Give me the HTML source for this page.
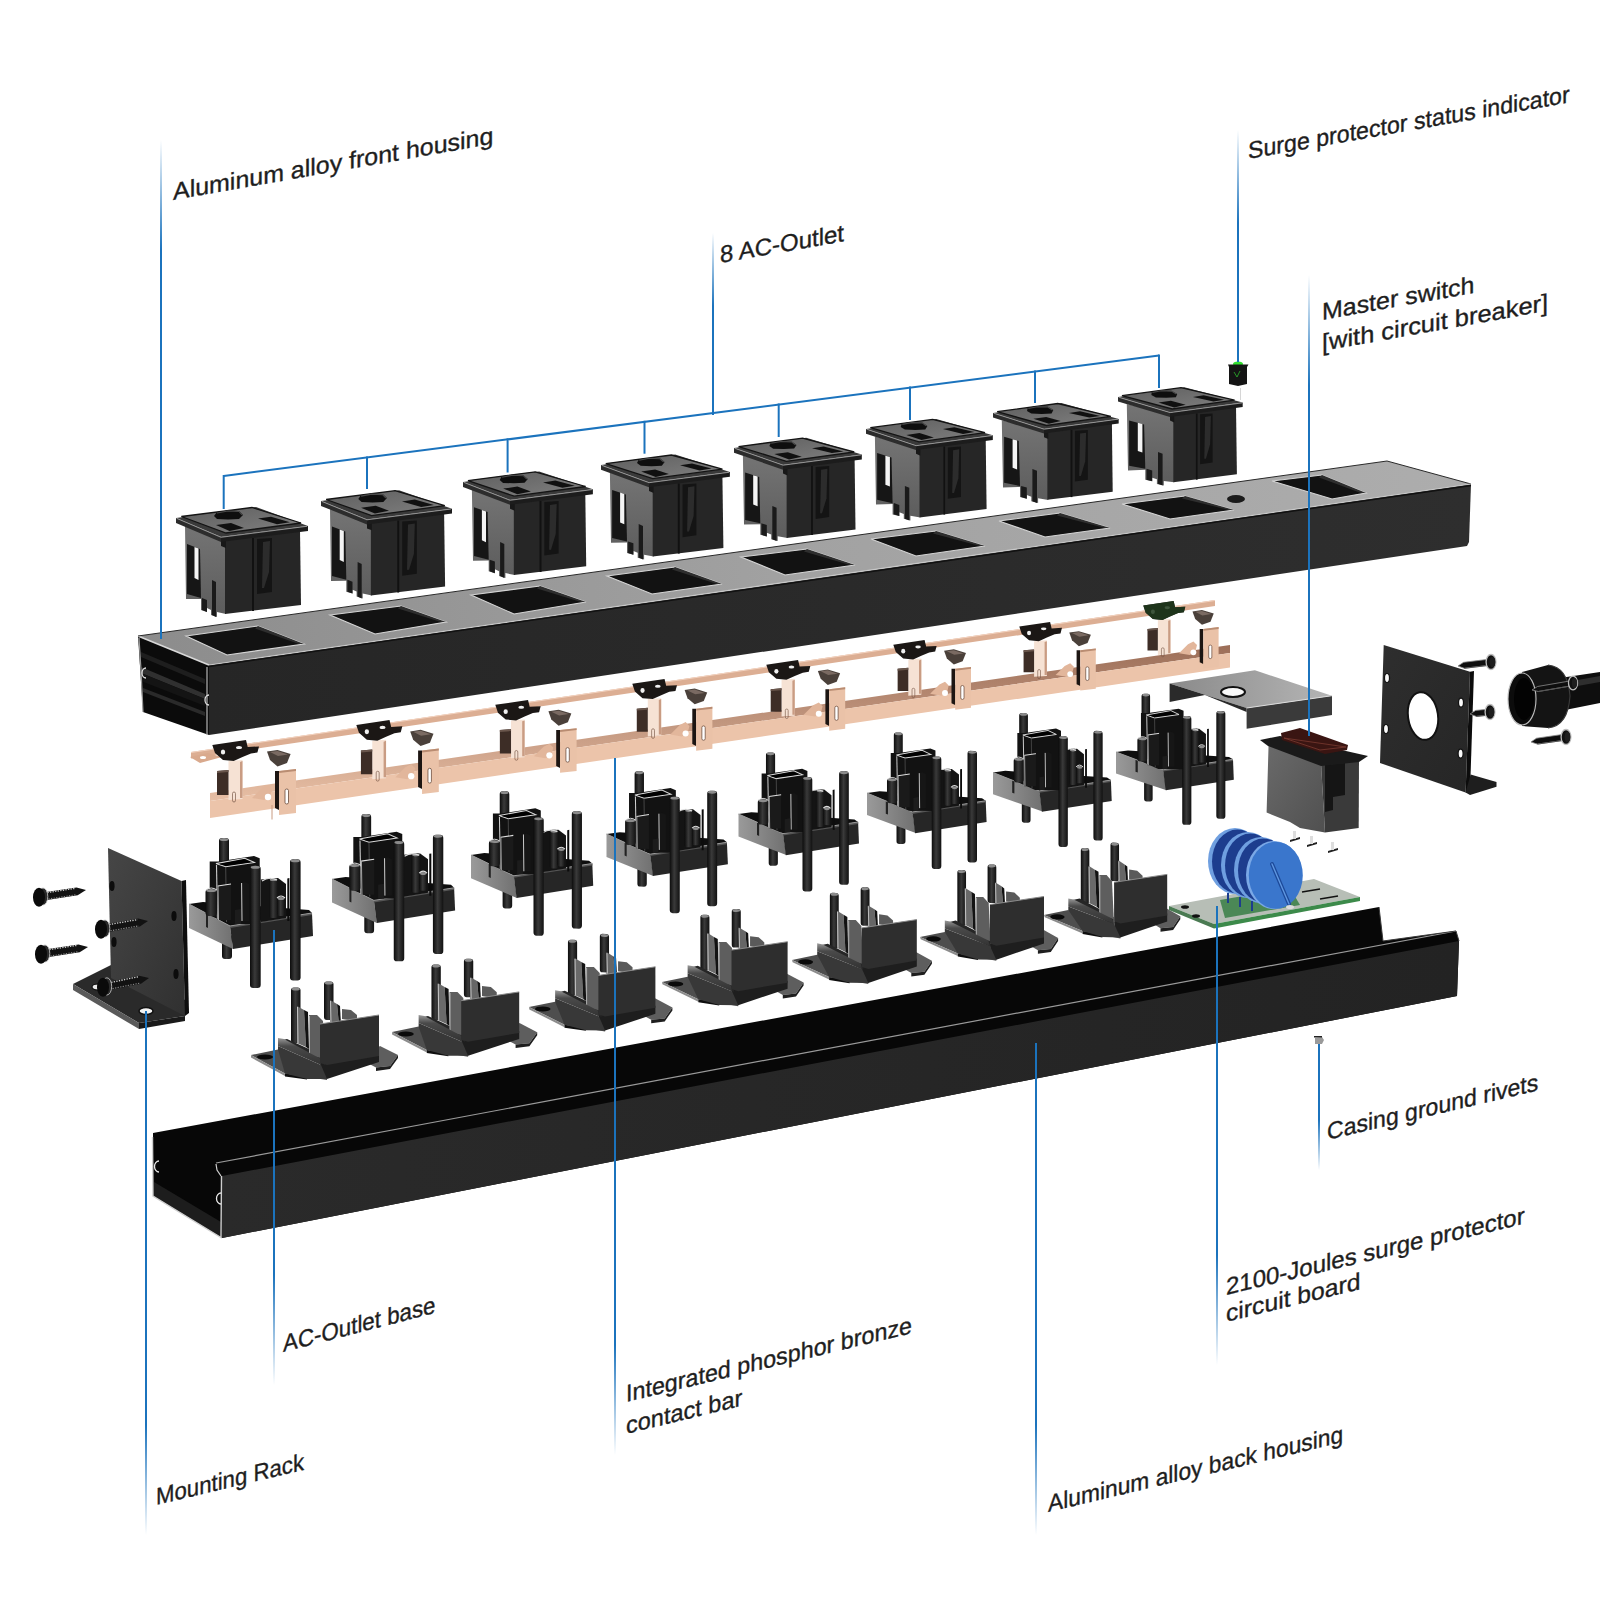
<!DOCTYPE html>
<html><head><meta charset="utf-8"><style>html,body{margin:0;padding:0;background:#fff;width:1600px;height:1600px;overflow:hidden}svg{display:block}</style></head>
<body>
<svg width="1600" height="1600" viewBox="0 0 1600 1600">

<defs>
<linearGradient id="gTopF" x1="0" y1="0" x2="1" y2="0">
  <stop offset="0" stop-color="#8c8c8c"/><stop offset="0.5" stop-color="#a2a2a2"/><stop offset="1" stop-color="#adadad"/>
</linearGradient>
<linearGradient id="gFrontF" x1="0" y1="0" x2="1" y2="0">
  <stop offset="0" stop-color="#262626"/><stop offset="1" stop-color="#2e2e2e"/>
</linearGradient>
<linearGradient id="gBackF" x1="0" y1="0" x2="1" y2="0">
  <stop offset="0" stop-color="#2a2a2a"/><stop offset="1" stop-color="#232323"/>
</linearGradient>
<linearGradient id="fadeUp" x1="0" y1="0" x2="0" y2="1">
  <stop offset="0" stop-color="#1b73bd" stop-opacity="0"/><stop offset="0.35" stop-color="#1b73bd" stop-opacity="1"/><stop offset="1" stop-color="#1b73bd" stop-opacity="1"/>
</linearGradient>
<linearGradient id="fadeDown" x1="0" y1="0" x2="0" y2="1">
  <stop offset="0" stop-color="#1b73bd" stop-opacity="1"/><stop offset="0.65" stop-color="#1b73bd" stop-opacity="1"/><stop offset="1" stop-color="#1b73bd" stop-opacity="0"/>
</linearGradient>
<linearGradient id="gOutTop" x1="0" y1="0" x2="1" y2="1">
  <stop offset="0" stop-color="#5e5e5e"/><stop offset="1" stop-color="#808080"/>
</linearGradient>
<linearGradient id="gOutSide" x1="0" y1="0" x2="0" y2="1">
  <stop offset="0" stop-color="#747474"/><stop offset="1" stop-color="#5c5c5c"/>
</linearGradient>

<linearGradient id="gPin" x1="0" y1="0" x2="1" y2="0"><stop offset="0" stop-color="#0c0c0c"/><stop offset="0.45" stop-color="#3a3a3a"/><stop offset="1" stop-color="#111"/></linearGradient>
<linearGradient id="gTrayL" x1="0" y1="0" x2="1" y2="0"><stop offset="0" stop-color="#9a9a9a"/><stop offset="1" stop-color="#707070"/></linearGradient>
<linearGradient id="gBent" x1="0" y1="0" x2="0" y2="1"><stop offset="0" stop-color="#9c6e58"/><stop offset="1" stop-color="#e8bfa5"/></linearGradient>
<linearGradient id="gRack" x1="0" y1="0" x2="1" y2="1"><stop offset="0" stop-color="#464646"/><stop offset="1" stop-color="#303030"/></linearGradient>
<linearGradient id="gBrk" x1="0" y1="0" x2="1" y2="0"><stop offset="0" stop-color="#8a8a8a"/><stop offset="1" stop-color="#b5b5b5"/></linearGradient>
<linearGradient id="gSwL" x1="0" y1="0" x2="1" y2="1"><stop offset="0" stop-color="#6a6a6a"/><stop offset="1" stop-color="#505050"/></linearGradient>
<linearGradient id="gEnd" x1="0" y1="0" x2="1" y2="1"><stop offset="0" stop-color="#2e2e2e"/><stop offset="1" stop-color="#262626"/></linearGradient>
<linearGradient id="gBevel" x1="0" y1="0" x2="0" y2="1"><stop offset="0" stop-color="#9a9a9a"/><stop offset="0.3" stop-color="#4a4a4a"/><stop offset="1" stop-color="#333"/></linearGradient>
<g id="clip"><polygon points="40.0,58.0 50.0,48.0 56.0,45.0 60.0,49.0 58.0,57.0 52.0,60.0" fill="#e2b69b" />
<circle cx="56" cy="57" r="3.2" fill="#fff"/>
<polygon points="16.5,21.0 30.5,20.0 30.5,59.0 16.5,60.0" fill="#f6e2d4" />
<polygon points="28.0,22.0 30.5,21.0 30.5,58.0 28.0,58.0" fill="#c99c83" />
<polygon points="5.0,31.0 16.5,30.0 16.5,55.0 5.0,55.0" fill="#3d2d26" />
<polygon points="5.0,31.0 16.5,30.0 16.5,32.0 5.0,33.0" fill="#6a564c" />
<rect x="20.5" y="52" width="3" height="10" rx="1.5" fill="none" stroke="#7a5a4a" stroke-width="0.7"/>
<polygon points="63.0,31.0 67.0,31.0 67.0,70.0 63.0,68.0" fill="#1c1512" />
<polygon points="67.0,31.0 84.0,29.0 84.0,73.0 67.0,75.0" fill="#eac2a8" />
<polygon points="67.0,31.0 84.0,29.0 84.0,31.0 67.0,33.0" fill="#b98c72" />
<rect x="73" y="49" width="3.5" height="15" rx="1.7" fill="#fff" stroke="#6a4a3a" stroke-width="0.8"/>
<polygon points="0.3,5.0 34.0,0.0 35.7,7.0 47.0,6.4 45.4,12.5 39.0,13.4 30.5,17.0 21.7,21.0 11.0,20.0 3.0,13.0" fill="#1b1715" />
<ellipse cx="27" cy="7.5" rx="3" ry="1.6" fill="#f0f0f0"/>
<ellipse cx="11" cy="12" rx="2.2" ry="2.5" fill="#f0f0f0"/>
<polygon points="55.0,11.6 65.5,10.0 78.6,14.0 75.0,23.0 65.5,26.5 58.0,20.0" fill="#4a403a" />
<polygon points="58.0,12.0 65.5,11.0 76.0,14.5 66.0,16.0" fill="#7a6a62" /></g>
</defs>

<rect width="1600" height="1600" fill="#fff"/>
<polygon points="153.0,1133.0 1379.0,907.0 1383.0,941.0 1456.0,931.0 1459.0,941.0 1457.0,996.0 222.0,1238.0 153.0,1196.0" fill="#070707" />
<polygon points="222.0,1176.0 1459.0,941.0 1457.0,996.0 222.0,1238.0" fill="url(#gBackF)" />
<polyline points="216,1163 1456,931" stroke="#9a9a9a" stroke-width="1.2" fill="none"/>
<polygon points="154.0,1182.0 221.0,1222.0 221.0,1237.0 154.0,1196.0" fill="#1d1d1d" />
<polyline points="152.5,1137 153,1196 221,1237.5 221.5,1176" stroke="#cfcfcf" stroke-width="1.4" fill="none"/>
<polyline points="216,1164 217,1170 221,1176" stroke="#d0d0d0" stroke-width="1.2" fill="none"/>
<path d="M159 1161 a4.5 5.5 0 1 0 0 11" stroke="#e8e8e8" stroke-width="1.3" fill="none"/>
<path d="M221 1193 a4.5 5.5 0 1 0 0 11" stroke="#e8e8e8" stroke-width="1.3" fill="none"/>
<polyline points="1379,907 1383,941 1456,931 1459,941" stroke="#3a3a3a" stroke-width="1" fill="none"/>
<polygon points="361.0,1059.5 380.0,1046.0 398.0,1055.0 390.0,1066.0 376.0,1067.5" fill="#5e5e5e" />
<polygon points="376.0,1067.5 390.0,1066.0 398.0,1055.0 398.0,1058.0 390.0,1069.0 376.0,1071.0" fill="#1e1e1e" />
<polygon points="251.0,1055.0 278.0,1049.5 327.0,1073.0 327.0,1080.0 285.0,1073.5" fill="#4e4e4e" />
<polygon points="251.0,1055.0 285.0,1073.5 285.0,1076.0 251.0,1057.5" fill="#8c8c8c" />
<polygon points="285.0,1073.5 307.0,1076.5 307.0,1079.5 285.0,1076.5" fill="#0e0e0e" />
<g transform="matrix(1.0000,0.0000,0,1.0000,251.00,1055.00)"><ellipse cx="14" cy="2" rx="8" ry="2.6" fill="#0a0a0a"/></g>
<polygon points="320.0,1063.0 379.0,1054.0 379.0,1062.0 327.0,1079.0 321.0,1077.0" fill="#1e1e1e" />
<g transform="matrix(1.0000,0.0000,0,1.0000,251.00,1055.00)"><rect x="40.0" y="-67.5" width="9.5" height="55.5" rx="2.9" fill="url(#gPin)"/><ellipse cx="44.8" cy="-66.0" rx="4.0" ry="1.5" fill="#8c8c8c"/>
<rect x="73.0" y="-73.5" width="9.5" height="38.5" rx="2.9" fill="url(#gPin)"/><ellipse cx="77.8" cy="-72.0" rx="4.0" ry="1.5" fill="#8c8c8c"/></g>
<g transform="matrix(1.0000,0.0000,0,1.0000,251.00,1055.00)"><polygon points="36.0,-16.0 58.0,-6.0 74.0,2.0 74.0,10.0 27.0,-10.0 27.0,-14.0" fill="#262626" />
<polygon points="46.0,-49.0 53.0,-45.0 55.0,-8.0 46.0,-12.0" fill="#6a6a6a" />
<polyline points="46.5,-48 47,-12" stroke="#c8c8c8" stroke-width="1" fill="none"/>
<polygon points="53.0,-45.0 57.0,-43.0 58.0,-6.0 55.0,-8.0" fill="#121212" />
<polygon points="79.0,-55.0 86.0,-51.0 88.0,-30.0 79.0,-33.0" fill="#666" />
<polyline points="79.5,-54 80,-33" stroke="#c0c0c0" stroke-width="1" fill="none"/>
<polygon points="86.0,-51.0 89.0,-49.0 90.0,-30.0 88.0,-30.0" fill="#111" />
<polygon points="91.0,-46.0 100.0,-45.0 106.0,-40.0 106.0,-34.0 91.0,-36.0" fill="#5a5a5a" />
<polygon points="58.0,-40.0 66.0,-40.0 72.0,-34.0 74.0,4.0 58.0,0.0" fill="#5e5e5e" />
<polyline points="58.5,-39 58.5,0" stroke="#b0b0b0" stroke-width="1" fill="none"/></g>
<polygon points="278.0,1046.0 321.0,1065.0 327.0,1079.0 307.0,1079.0 285.0,1073.5 278.0,1049.5" fill="#383838" />
<polygon points="278.0,1038.0 284.0,1039.0 321.0,1059.0 321.0,1065.0 278.0,1046.0" fill="url(#gBevel)" />
<polygon points="320.0,1024.0 379.0,1015.0 379.0,1056.0 327.0,1065.0 320.0,1063.0" fill="#2e2e2e" />
<polyline points="320.0,1024.0 379.0,1015.0" fill="none" stroke="#8a8a8a" stroke-width="1"/>
<polygon points="500.8,1036.6 519.5,1023.1 537.2,1032.2 529.4,1043.2 515.6,1044.6" fill="#5e5e5e" />
<polygon points="515.6,1044.6 529.4,1043.2 537.2,1032.2 537.2,1035.2 529.4,1046.2 515.6,1048.1" fill="#1e1e1e" />
<polygon points="392.0,1032.0 418.6,1026.6 468.1,1049.7 468.1,1056.7 426.8,1050.1" fill="#4e4e4e" />
<polygon points="392.0,1032.0 426.8,1050.1 426.8,1052.6 392.1,1034.4" fill="#8c8c8c" />
<polygon points="426.8,1050.1 448.4,1053.2 448.4,1056.2 426.8,1053.1" fill="#0e0e0e" />
<g transform="matrix(0.9833,0.0031,0,1.0000,392.13,1031.95)"><ellipse cx="14" cy="2" rx="8" ry="2.6" fill="#0a0a0a"/></g>
<polygon points="461.2,1039.7 519.2,1030.9 519.2,1038.9 468.1,1055.7 462.2,1053.7" fill="#1e1e1e" />
<g transform="matrix(0.9833,0.0031,0,1.0000,392.13,1031.95)"><rect x="40.0" y="-67.5" width="9.5" height="55.5" rx="2.9" fill="url(#gPin)"/><ellipse cx="44.8" cy="-66.0" rx="4.0" ry="1.5" fill="#8c8c8c"/>
<rect x="73.0" y="-73.5" width="9.5" height="38.5" rx="2.9" fill="url(#gPin)"/><ellipse cx="77.8" cy="-72.0" rx="4.0" ry="1.5" fill="#8c8c8c"/></g>
<g transform="matrix(0.9833,0.0031,0,1.0000,392.53,1031.80)"><polygon points="36.0,-16.0 58.0,-6.0 74.0,2.0 74.0,10.0 27.0,-10.0 27.0,-14.0" fill="#262626" />
<polygon points="46.0,-49.0 53.0,-45.0 55.0,-8.0 46.0,-12.0" fill="#6a6a6a" />
<polyline points="46.5,-48 47,-12" stroke="#c8c8c8" stroke-width="1" fill="none"/>
<polygon points="53.0,-45.0 57.0,-43.0 58.0,-6.0 55.0,-8.0" fill="#121212" />
<polygon points="79.0,-55.0 86.0,-51.0 88.0,-30.0 79.0,-33.0" fill="#666" />
<polyline points="79.5,-54 80,-33" stroke="#c0c0c0" stroke-width="1" fill="none"/>
<polygon points="86.0,-51.0 89.0,-49.0 90.0,-30.0 88.0,-30.0" fill="#111" />
<polygon points="91.0,-46.0 100.0,-45.0 106.0,-40.0 106.0,-34.0 91.0,-36.0" fill="#5a5a5a" />
<polygon points="58.0,-40.0 66.0,-40.0 72.0,-34.0 74.0,4.0 58.0,0.0" fill="#5e5e5e" />
<polyline points="58.5,-39 58.5,0" stroke="#b0b0b0" stroke-width="1" fill="none"/></g>
<polygon points="418.6,1023.1 462.0,1041.8 468.1,1055.7 448.4,1055.7 426.8,1050.1 418.6,1026.6" fill="#383838" />
<polygon points="418.6,1015.1 424.4,1016.1 461.7,1035.9 462.0,1041.8 418.6,1023.1" fill="url(#gBevel)" />
<polygon points="461.2,1000.7 519.2,991.9 519.2,1032.9 468.1,1041.7 461.2,1039.7" fill="#2e2e2e" />
<polyline points="461.2,1000.7 519.2,991.9" fill="none" stroke="#8a8a8a" stroke-width="1"/>
<polygon points="636.7,1011.7 655.0,998.3 672.4,1007.4 664.7,1018.4 651.2,1019.8" fill="#5e5e5e" />
<polygon points="651.2,1019.8 664.7,1018.4 672.4,1007.4 672.4,1010.4 664.7,1021.4 651.2,1023.3" fill="#1e1e1e" />
<polygon points="529.0,1007.0 555.1,1001.7 605.1,1024.5 605.1,1031.5 564.5,1024.7" fill="#4e4e4e" />
<polygon points="529.0,1007.0 564.5,1024.7 564.5,1027.2 529.3,1009.4" fill="#8c8c8c" />
<polygon points="564.5,1024.7 585.8,1027.8 585.8,1030.8 564.5,1027.7" fill="#0e0e0e" />
<g transform="matrix(0.9667,0.0062,0,1.0000,529.27,1006.90)"><ellipse cx="14" cy="2" rx="8" ry="2.6" fill="#0a0a0a"/></g>
<polygon points="598.4,1014.4 655.4,1005.8 655.4,1013.8 605.1,1030.5 599.3,1028.4" fill="#1e1e1e" />
<g transform="matrix(0.9667,0.0062,0,1.0000,529.27,1006.90)"><rect x="40.0" y="-67.5" width="9.5" height="55.5" rx="2.9" fill="url(#gPin)"/><ellipse cx="44.8" cy="-66.0" rx="4.0" ry="1.5" fill="#8c8c8c"/>
<rect x="73.0" y="-73.5" width="9.5" height="38.5" rx="2.9" fill="url(#gPin)"/><ellipse cx="77.8" cy="-72.0" rx="4.0" ry="1.5" fill="#8c8c8c"/></g>
<g transform="matrix(0.9667,0.0062,0,1.0000,530.07,1006.60)"><polygon points="36.0,-16.0 58.0,-6.0 74.0,2.0 74.0,10.0 27.0,-10.0 27.0,-14.0" fill="#262626" />
<polygon points="46.0,-49.0 53.0,-45.0 55.0,-8.0 46.0,-12.0" fill="#6a6a6a" />
<polyline points="46.5,-48 47,-12" stroke="#c8c8c8" stroke-width="1" fill="none"/>
<polygon points="53.0,-45.0 57.0,-43.0 58.0,-6.0 55.0,-8.0" fill="#121212" />
<polygon points="79.0,-55.0 86.0,-51.0 88.0,-30.0 79.0,-33.0" fill="#666" />
<polyline points="79.5,-54 80,-33" stroke="#c0c0c0" stroke-width="1" fill="none"/>
<polygon points="86.0,-51.0 89.0,-49.0 90.0,-30.0 88.0,-30.0" fill="#111" />
<polygon points="91.0,-46.0 100.0,-45.0 106.0,-40.0 106.0,-34.0 91.0,-36.0" fill="#5a5a5a" />
<polygon points="58.0,-40.0 66.0,-40.0 72.0,-34.0 74.0,4.0 58.0,0.0" fill="#5e5e5e" />
<polyline points="58.5,-39 58.5,0" stroke="#b0b0b0" stroke-width="1" fill="none"/></g>
<polygon points="555.1,998.2 599.0,1016.6 605.1,1030.5 585.8,1030.3 564.5,1024.7 555.1,1001.7" fill="#383838" />
<polygon points="555.1,990.2 560.9,991.2 598.3,1010.8 599.0,1016.6 555.1,998.2" fill="url(#gBevel)" />
<polygon points="598.4,975.4 655.4,966.8 655.4,1007.8 605.1,1016.5 598.4,1014.4" fill="#2e2e2e" />
<polyline points="598.4,975.4 655.4,966.8" fill="none" stroke="#8a8a8a" stroke-width="1"/>
<polygon points="768.5,986.8 786.5,973.4 803.6,982.6 796.0,993.5 782.8,994.9" fill="#5e5e5e" />
<polygon points="782.8,994.9 796.0,993.5 803.6,982.6 803.6,985.6 796.0,996.5 782.8,998.4" fill="#1e1e1e" />
<polygon points="662.0,982.0 687.6,976.8 738.2,999.2 738.2,1006.2 698.3,999.3" fill="#4e4e4e" />
<polygon points="662.0,982.0 698.3,999.3 698.3,1001.8 662.4,984.3" fill="#8c8c8c" />
<polygon points="698.3,999.3 719.2,1002.5 719.2,1005.5 698.3,1002.3" fill="#0e0e0e" />
<g transform="matrix(0.9500,0.0093,0,1.0000,662.40,981.85)"><ellipse cx="14" cy="2" rx="8" ry="2.6" fill="#0a0a0a"/></g>
<polygon points="731.5,989.1 787.6,980.7 787.6,988.7 738.2,1005.2 732.5,1003.2" fill="#1e1e1e" />
<g transform="matrix(0.9500,0.0093,0,1.0000,662.40,981.85)"><rect x="40.0" y="-67.5" width="9.5" height="55.5" rx="2.9" fill="url(#gPin)"/><ellipse cx="44.8" cy="-66.0" rx="4.0" ry="1.5" fill="#8c8c8c"/>
<rect x="73.0" y="-73.5" width="9.5" height="38.5" rx="2.9" fill="url(#gPin)"/><ellipse cx="77.8" cy="-72.0" rx="4.0" ry="1.5" fill="#8c8c8c"/></g>
<g transform="matrix(0.9500,0.0093,0,1.0000,663.60,981.40)"><polygon points="36.0,-16.0 58.0,-6.0 74.0,2.0 74.0,10.0 27.0,-10.0 27.0,-14.0" fill="#262626" />
<polygon points="46.0,-49.0 53.0,-45.0 55.0,-8.0 46.0,-12.0" fill="#6a6a6a" />
<polyline points="46.5,-48 47,-12" stroke="#c8c8c8" stroke-width="1" fill="none"/>
<polygon points="53.0,-45.0 57.0,-43.0 58.0,-6.0 55.0,-8.0" fill="#121212" />
<polygon points="79.0,-55.0 86.0,-51.0 88.0,-30.0 79.0,-33.0" fill="#666" />
<polyline points="79.5,-54 80,-33" stroke="#c0c0c0" stroke-width="1" fill="none"/>
<polygon points="86.0,-51.0 89.0,-49.0 90.0,-30.0 88.0,-30.0" fill="#111" />
<polygon points="91.0,-46.0 100.0,-45.0 106.0,-40.0 106.0,-34.0 91.0,-36.0" fill="#5a5a5a" />
<polygon points="58.0,-40.0 66.0,-40.0 72.0,-34.0 74.0,4.0 58.0,0.0" fill="#5e5e5e" />
<polyline points="58.5,-39 58.5,0" stroke="#b0b0b0" stroke-width="1" fill="none"/></g>
<polygon points="687.6,973.3 732.0,991.3 738.2,1005.2 719.2,1005.0 698.3,999.3 687.6,976.8" fill="#383838" />
<polygon points="687.6,965.3 693.4,966.3 731.0,985.7 732.0,991.3 687.6,973.3" fill="url(#gBevel)" />
<polygon points="731.5,950.1 787.6,941.7 787.6,982.7 738.2,991.2 731.5,989.1" fill="#2e2e2e" />
<polyline points="731.5,950.1 787.6,941.7" fill="none" stroke="#8a8a8a" stroke-width="1"/>
<polygon points="897.3,964.9 915.1,951.6 931.9,960.8 924.4,971.7 911.3,973.0" fill="#5e5e5e" />
<polygon points="911.3,973.0 924.4,971.7 931.9,960.8 931.9,963.8 924.4,974.7 911.3,976.5" fill="#1e1e1e" />
<polygon points="792.0,960.0 817.2,954.8 868.3,976.9 868.3,983.9 829.1,976.9" fill="#4e4e4e" />
<polygon points="792.0,960.0 829.1,976.9 829.1,979.4 792.6,962.3" fill="#8c8c8c" />
<polygon points="829.1,976.9 849.6,980.2 849.6,983.2 829.1,979.9" fill="#0e0e0e" />
<g transform="matrix(0.9333,0.0124,0,1.0000,792.53,959.80)"><ellipse cx="14" cy="2" rx="8" ry="2.6" fill="#0a0a0a"/></g>
<polygon points="861.7,966.9 916.8,958.6 916.8,966.6 868.3,982.9 862.7,980.9" fill="#1e1e1e" />
<g transform="matrix(0.9333,0.0124,0,1.0000,792.53,959.80)"><rect x="40.0" y="-67.5" width="9.5" height="55.5" rx="2.9" fill="url(#gPin)"/><ellipse cx="44.8" cy="-66.0" rx="4.0" ry="1.5" fill="#8c8c8c"/>
<rect x="73.0" y="-73.5" width="9.5" height="38.5" rx="2.9" fill="url(#gPin)"/><ellipse cx="77.8" cy="-72.0" rx="4.0" ry="1.5" fill="#8c8c8c"/></g>
<g transform="matrix(0.9333,0.0124,0,1.0000,794.13,959.20)"><polygon points="36.0,-16.0 58.0,-6.0 74.0,2.0 74.0,10.0 27.0,-10.0 27.0,-14.0" fill="#262626" />
<polygon points="46.0,-49.0 53.0,-45.0 55.0,-8.0 46.0,-12.0" fill="#6a6a6a" />
<polyline points="46.5,-48 47,-12" stroke="#c8c8c8" stroke-width="1" fill="none"/>
<polygon points="53.0,-45.0 57.0,-43.0 58.0,-6.0 55.0,-8.0" fill="#121212" />
<polygon points="79.0,-55.0 86.0,-51.0 88.0,-30.0 79.0,-33.0" fill="#666" />
<polyline points="79.5,-54 80,-33" stroke="#c0c0c0" stroke-width="1" fill="none"/>
<polygon points="86.0,-51.0 89.0,-49.0 90.0,-30.0 88.0,-30.0" fill="#111" />
<polygon points="91.0,-46.0 100.0,-45.0 106.0,-40.0 106.0,-34.0 91.0,-36.0" fill="#5a5a5a" />
<polygon points="58.0,-40.0 66.0,-40.0 72.0,-34.0 74.0,4.0 58.0,0.0" fill="#5e5e5e" />
<polyline points="58.5,-39 58.5,0" stroke="#b0b0b0" stroke-width="1" fill="none"/></g>
<polygon points="817.2,951.3 862.0,969.1 868.3,982.9 849.6,982.7 829.1,976.9 817.2,954.8" fill="#383838" />
<polygon points="817.2,943.3 822.8,944.4 860.6,963.6 862.0,969.1 817.2,951.3" fill="url(#gBevel)" />
<polygon points="861.7,927.9 916.8,919.6 916.8,960.6 868.3,968.9 861.7,966.9" fill="#2e2e2e" />
<polyline points="861.7,927.9 916.8,919.6" fill="none" stroke="#8a8a8a" stroke-width="1"/>
<polygon points="1024.2,942.0 1041.6,928.7 1058.1,938.0 1050.8,948.9 1037.9,950.2" fill="#5e5e5e" />
<polygon points="1037.9,950.2 1050.8,948.9 1058.1,938.0 1058.1,941.0 1050.8,951.9 1037.9,953.7" fill="#1e1e1e" />
<polygon points="920.0,937.0 944.8,931.9 996.3,953.7 996.3,960.7 957.8,953.5" fill="#4e4e4e" />
<polygon points="920.0,937.0 957.8,953.5 957.8,956.0 920.7,939.2" fill="#8c8c8c" />
<polygon points="957.8,953.5 978.0,956.9 978.0,959.9 957.8,956.5" fill="#0e0e0e" />
<g transform="matrix(0.9167,0.0155,0,1.0000,920.67,936.75)"><ellipse cx="14" cy="2" rx="8" ry="2.6" fill="#0a0a0a"/></g>
<polygon points="989.9,943.6 1044.0,935.5 1044.0,943.5 996.3,959.7 990.8,957.6" fill="#1e1e1e" />
<g transform="matrix(0.9167,0.0155,0,1.0000,920.67,936.75)"><rect x="40.0" y="-67.5" width="9.5" height="55.5" rx="2.9" fill="url(#gPin)"/><ellipse cx="44.8" cy="-66.0" rx="4.0" ry="1.5" fill="#8c8c8c"/>
<rect x="73.0" y="-73.5" width="9.5" height="38.5" rx="2.9" fill="url(#gPin)"/><ellipse cx="77.8" cy="-72.0" rx="4.0" ry="1.5" fill="#8c8c8c"/></g>
<g transform="matrix(0.9167,0.0155,0,1.0000,922.67,936.00)"><polygon points="36.0,-16.0 58.0,-6.0 74.0,2.0 74.0,10.0 27.0,-10.0 27.0,-14.0" fill="#262626" />
<polygon points="46.0,-49.0 53.0,-45.0 55.0,-8.0 46.0,-12.0" fill="#6a6a6a" />
<polyline points="46.5,-48 47,-12" stroke="#c8c8c8" stroke-width="1" fill="none"/>
<polygon points="53.0,-45.0 57.0,-43.0 58.0,-6.0 55.0,-8.0" fill="#121212" />
<polygon points="79.0,-55.0 86.0,-51.0 88.0,-30.0 79.0,-33.0" fill="#666" />
<polyline points="79.5,-54 80,-33" stroke="#c0c0c0" stroke-width="1" fill="none"/>
<polygon points="86.0,-51.0 89.0,-49.0 90.0,-30.0 88.0,-30.0" fill="#111" />
<polygon points="91.0,-46.0 100.0,-45.0 106.0,-40.0 106.0,-34.0 91.0,-36.0" fill="#5a5a5a" />
<polygon points="58.0,-40.0 66.0,-40.0 72.0,-34.0 74.0,4.0 58.0,0.0" fill="#5e5e5e" />
<polyline points="58.5,-39 58.5,0" stroke="#b0b0b0" stroke-width="1" fill="none"/></g>
<polygon points="944.8,928.4 990.0,945.9 996.3,959.7 978.0,959.4 957.8,953.5 944.8,931.9" fill="#383838" />
<polygon points="944.8,920.4 950.2,921.5 988.3,940.5 990.0,945.9 944.8,928.4" fill="url(#gBevel)" />
<polygon points="989.9,904.6 1044.0,896.5 1044.0,937.5 996.3,945.7 989.9,943.6" fill="#2e2e2e" />
<polyline points="989.9,904.6 1044.0,896.5" fill="none" stroke="#8a8a8a" stroke-width="1"/>
<polygon points="1147.0,920.0 1164.1,906.9 1180.3,916.2 1173.1,927.1 1160.5,928.3" fill="#5e5e5e" />
<polygon points="1160.5,928.3 1173.1,927.1 1180.3,916.2 1180.3,919.2 1173.1,930.1 1160.5,931.8" fill="#1e1e1e" />
<polygon points="1044.0,915.0 1068.3,910.0 1120.4,931.4 1120.4,938.4 1082.6,931.1" fill="#4e4e4e" />
<polygon points="1044.0,915.0 1082.6,931.1 1082.6,933.6 1044.8,917.2" fill="#8c8c8c" />
<polygon points="1082.6,931.1 1102.4,934.5 1102.4,937.5 1082.6,934.1" fill="#0e0e0e" />
<g transform="matrix(0.9000,0.0186,0,1.0000,1044.80,914.70)"><ellipse cx="14" cy="2" rx="8" ry="2.6" fill="#0a0a0a"/></g>
<polygon points="1114.1,921.3 1167.2,913.4 1167.2,921.4 1120.4,937.4 1115.0,935.3" fill="#1e1e1e" />
<g transform="matrix(0.9000,0.0186,0,1.0000,1044.80,914.70)"><rect x="40.0" y="-67.5" width="9.5" height="55.5" rx="2.9" fill="url(#gPin)"/><ellipse cx="44.8" cy="-66.0" rx="4.0" ry="1.5" fill="#8c8c8c"/>
<rect x="73.0" y="-73.5" width="9.5" height="38.5" rx="2.9" fill="url(#gPin)"/><ellipse cx="77.8" cy="-72.0" rx="4.0" ry="1.5" fill="#8c8c8c"/></g>
<g transform="matrix(0.9000,0.0186,0,1.0000,1047.20,913.80)"><polygon points="36.0,-16.0 58.0,-6.0 74.0,2.0 74.0,10.0 27.0,-10.0 27.0,-14.0" fill="#262626" />
<polygon points="46.0,-49.0 53.0,-45.0 55.0,-8.0 46.0,-12.0" fill="#6a6a6a" />
<polyline points="46.5,-48 47,-12" stroke="#c8c8c8" stroke-width="1" fill="none"/>
<polygon points="53.0,-45.0 57.0,-43.0 58.0,-6.0 55.0,-8.0" fill="#121212" />
<polygon points="79.0,-55.0 86.0,-51.0 88.0,-30.0 79.0,-33.0" fill="#666" />
<polyline points="79.5,-54 80,-33" stroke="#c0c0c0" stroke-width="1" fill="none"/>
<polygon points="86.0,-51.0 89.0,-49.0 90.0,-30.0 88.0,-30.0" fill="#111" />
<polygon points="91.0,-46.0 100.0,-45.0 106.0,-40.0 106.0,-34.0 91.0,-36.0" fill="#5a5a5a" />
<polygon points="58.0,-40.0 66.0,-40.0 72.0,-34.0 74.0,4.0 58.0,0.0" fill="#5e5e5e" />
<polyline points="58.5,-39 58.5,0" stroke="#b0b0b0" stroke-width="1" fill="none"/></g>
<polygon points="1068.3,906.5 1114.0,923.7 1120.4,937.4 1102.4,937.0 1082.6,931.1 1068.3,910.0" fill="#383838" />
<polygon points="1068.3,898.5 1073.7,899.6 1112.0,918.4 1114.0,923.7 1068.3,906.5" fill="url(#gBevel)" />
<polygon points="1114.1,882.3 1167.2,874.4 1167.2,915.4 1120.4,923.4 1114.1,921.3" fill="#2e2e2e" />
<polyline points="1114.1,882.3 1167.2,874.4" fill="none" stroke="#8a8a8a" stroke-width="1"/>
<g transform="matrix(1.0000,0.0000,0,1.0000,189.00,904.00)"><rect x="33.0" y="30.0" width="10.0" height="25.0" rx="3.0" fill="url(#gPin)"/></g>
<polygon points="189.0,904.0 230.0,926.0 233.0,949.0 189.0,928.0" fill="url(#gTrayL)" />
<polygon points="206.0,913.0 208.0,914.0 208.0,928.0 206.0,927.0" fill="#222" />
<polygon points="230.0,926.0 312.0,913.0 313.0,936.0 233.0,949.0" fill="#262626" />
<polygon points="230.0,926.0 312.0,913.0 312.0,915.0 230.0,928.0" fill="#555" />
<polygon points="189.0,904.0 203.0,902.0 309.0,910.0 312.0,913.0 230.0,926.0" fill="#0e0e0e" />
<polyline points="189.0,904.0 230.0,926.0 312.0,913.0" fill="none" stroke="#9a9a9a" stroke-width="1"/>
<g transform="matrix(1.0000,0.0000,0,1.0000,189.00,904.00)"><rect x="30.0" y="-66.0" width="10.0" height="36.0" rx="3.0" fill="url(#gPin)"/><ellipse cx="35.0" cy="-64.5" rx="4.2" ry="1.5" fill="#8c8c8c"/></g>
<g transform="matrix(1.0000,0.0000,0,1.0000,189.00,904.00)"><polygon points="20.7,-42.6 29.0,-42.6 65.0,-48.0 70.7,-45.7 70.7,20.0 41.0,20.0 20.7,11.6" fill="#121212" />
<polygon points="27.0,-40.4 55.8,-45.8 65.4,-41.5 36.7,-37.2" fill="#050505" stroke="#d8d8d8" stroke-width="1.1"/>
<polygon points="30.0,-40.0 55.0,-44.5 61.0,-41.8 36.5,-38.5" fill="#000" />
<polyline points="27.5,-39 28.5,15" stroke="#cfcfcf" stroke-width="1.1" fill="none"/>
<polyline points="36.7,-37 37.5,18" stroke="#555" stroke-width="0.8" fill="none"/>
<rect x="16.5" y="-15.0" width="11.5" height="27.0" rx="3.4" fill="url(#gPin)"/><ellipse cx="22.2" cy="-13.5" rx="5.0" ry="1.5" fill="#8c8c8c"/>
<path d="M17 -14 Q22 -18 28 -14" stroke="#ddd" stroke-width="1" fill="none"/>
<polygon points="28.7,-18.0 42.0,-20.0 42.0,16.0 28.7,16.0" fill="#1a1a1a" />
<polyline points="28.7,-18 42,-20" stroke="#e0e0e0" stroke-width="1.1" fill="none"/>
<polyline points="29,-18 29.5,16" stroke="#bbb" stroke-width="0.9" fill="none"/>
<polygon points="52.6,-21.0 56.0,-22.0 60.0,-20.0 60.0,17.0 52.6,17.0" fill="#161616" />
<polyline points="52.6,-21 53,17" stroke="#d0d0d0" stroke-width="1" fill="none"/>
<polygon points="71.7,-24.5 89.0,-26.0 97.0,-20.0 97.0,14.0 71.7,18.0" fill="#141414" />
<rect x="80.0" y="-26.0" width="9.0" height="40.0" rx="2.7" fill="url(#gPin)"/><ellipse cx="84.5" cy="-24.5" rx="3.7" ry="1.5" fill="#8c8c8c"/>
<path d="M73 -23 Q80 -28 88 -24" stroke="#e0e0e0" stroke-width="1.1" fill="none"/>
<rect x="88.0" y="-7.0" width="8.0" height="19.0" rx="2.4" fill="url(#gPin)"/><ellipse cx="92.0" cy="-5.5" rx="3.2" ry="1.5" fill="#8c8c8c"/>
<path d="M88 -6 Q92 -10 96 -6" stroke="#e0e0e0" stroke-width="1.1" fill="none"/>
<polygon points="98.3,-25.6 100.4,-26.0 100.4,17.0 98.3,17.0" fill="#0c0c0c" />
<polygon points="46.0,6.0 52.0,5.0 52.0,20.0 46.0,20.0" fill="#1c1c1c" /></g>
<g transform="matrix(1.0000,0.0000,0,1.0000,189.00,904.00)"><rect x="61.0" y="-38.3" width="10.7" height="122.2" rx="3.2" fill="url(#gPin)"/><ellipse cx="66.3" cy="-36.8" rx="4.6" ry="1.5" fill="#8c8c8c"/><rect x="101.0" y="-44.7" width="10.6" height="121.1" rx="3.2" fill="url(#gPin)"/><ellipse cx="106.3" cy="-43.2" rx="4.5" ry="1.5" fill="#8c8c8c"/></g>
<g transform="matrix(0.9789,0.0019,0,0.9843,332.00,879.00)"><rect x="33.0" y="30.0" width="10.0" height="25.0" rx="3.0" fill="url(#gPin)"/></g>
<polygon points="332.0,879.0 373.9,900.4 376.9,923.0 332.0,902.6" fill="url(#gTrayL)" />
<polygon points="349.4,887.8 351.4,888.7 351.4,902.5 349.4,901.5" fill="#222" />
<polygon points="373.9,900.4 454.1,887.8 455.1,910.4 376.8,923.0" fill="#262626" />
<polygon points="373.9,900.4 454.1,887.8 454.1,889.7 373.9,902.4" fill="#555" />
<polygon points="332.0,879.0 345.7,877.1 451.0,884.8 454.1,887.8 373.9,900.4" fill="#0e0e0e" />
<polyline points="332.0,879.0 373.9,900.4 454.1,887.8" fill="none" stroke="#9a9a9a" stroke-width="1"/>
<g transform="matrix(0.9789,0.0019,0,0.9843,332.00,879.00)"><rect x="30.0" y="-66.0" width="10.0" height="36.0" rx="3.0" fill="url(#gPin)"/><ellipse cx="35.0" cy="-64.5" rx="4.2" ry="1.5" fill="#8c8c8c"/></g>
<g transform="matrix(0.9789,0.0019,0,0.9843,333.05,878.80)"><polygon points="20.7,-42.6 29.0,-42.6 65.0,-48.0 70.7,-45.7 70.7,20.0 41.0,20.0 20.7,11.6" fill="#121212" />
<polygon points="27.0,-40.4 55.8,-45.8 65.4,-41.5 36.7,-37.2" fill="#050505" stroke="#d8d8d8" stroke-width="1.1"/>
<polygon points="30.0,-40.0 55.0,-44.5 61.0,-41.8 36.5,-38.5" fill="#000" />
<polyline points="27.5,-39 28.5,15" stroke="#cfcfcf" stroke-width="1.1" fill="none"/>
<polyline points="36.7,-37 37.5,18" stroke="#555" stroke-width="0.8" fill="none"/>
<rect x="16.5" y="-15.0" width="11.5" height="27.0" rx="3.4" fill="url(#gPin)"/><ellipse cx="22.2" cy="-13.5" rx="5.0" ry="1.5" fill="#8c8c8c"/>
<path d="M17 -14 Q22 -18 28 -14" stroke="#ddd" stroke-width="1" fill="none"/>
<polygon points="28.7,-18.0 42.0,-20.0 42.0,16.0 28.7,16.0" fill="#1a1a1a" />
<polyline points="28.7,-18 42,-20" stroke="#e0e0e0" stroke-width="1.1" fill="none"/>
<polyline points="29,-18 29.5,16" stroke="#bbb" stroke-width="0.9" fill="none"/>
<polygon points="52.6,-21.0 56.0,-22.0 60.0,-20.0 60.0,17.0 52.6,17.0" fill="#161616" />
<polyline points="52.6,-21 53,17" stroke="#d0d0d0" stroke-width="1" fill="none"/>
<polygon points="71.7,-24.5 89.0,-26.0 97.0,-20.0 97.0,14.0 71.7,18.0" fill="#141414" />
<rect x="80.0" y="-26.0" width="9.0" height="40.0" rx="2.7" fill="url(#gPin)"/><ellipse cx="84.5" cy="-24.5" rx="3.7" ry="1.5" fill="#8c8c8c"/>
<path d="M73 -23 Q80 -28 88 -24" stroke="#e0e0e0" stroke-width="1.1" fill="none"/>
<rect x="88.0" y="-7.0" width="8.0" height="19.0" rx="2.4" fill="url(#gPin)"/><ellipse cx="92.0" cy="-5.5" rx="3.2" ry="1.5" fill="#8c8c8c"/>
<path d="M88 -6 Q92 -10 96 -6" stroke="#e0e0e0" stroke-width="1.1" fill="none"/>
<polygon points="98.3,-25.6 100.4,-26.0 100.4,17.0 98.3,17.0" fill="#0c0c0c" />
<polygon points="46.0,6.0 52.0,5.0 52.0,20.0 46.0,20.0" fill="#1c1c1c" /></g>
<g transform="matrix(0.9789,0.0019,0,0.9843,334.04,878.62)"><rect x="61.0" y="-38.3" width="10.7" height="122.2" rx="3.2" fill="url(#gPin)"/><ellipse cx="66.3" cy="-36.8" rx="4.6" ry="1.5" fill="#8c8c8c"/><rect x="101.0" y="-44.7" width="10.6" height="121.1" rx="3.2" fill="url(#gPin)"/><ellipse cx="106.3" cy="-43.2" rx="4.5" ry="1.5" fill="#8c8c8c"/></g>
<g transform="matrix(0.9577,0.0037,0,0.9686,471.00,855.00)"><rect x="33.0" y="30.0" width="10.0" height="25.0" rx="3.0" fill="url(#gPin)"/></g>
<polygon points="471.0,855.0 513.8,875.8 516.9,898.0 471.0,878.2" fill="url(#gTrayL)" />
<polygon points="488.7,863.5 490.8,864.5 490.8,878.0 488.7,877.1" fill="#222" />
<polygon points="513.8,875.8 592.3,863.5 593.2,885.8 516.6,898.1" fill="#262626" />
<polygon points="513.8,875.8 592.3,863.5 592.3,865.5 513.8,877.7" fill="#555" />
<polygon points="471.0,855.0 484.4,853.1 589.0,860.7 592.3,863.5 513.8,875.8" fill="#0e0e0e" />
<polyline points="471.0,855.0 513.8,875.8 592.3,863.5" fill="none" stroke="#9a9a9a" stroke-width="1"/>
<g transform="matrix(0.9577,0.0037,0,0.9686,471.00,855.00)"><rect x="30.0" y="-66.0" width="10.0" height="36.0" rx="3.0" fill="url(#gPin)"/><ellipse cx="35.0" cy="-64.5" rx="4.2" ry="1.5" fill="#8c8c8c"/></g>
<g transform="matrix(0.9577,0.0037,0,0.9686,473.09,854.61)"><polygon points="20.7,-42.6 29.0,-42.6 65.0,-48.0 70.7,-45.7 70.7,20.0 41.0,20.0 20.7,11.6" fill="#121212" />
<polygon points="27.0,-40.4 55.8,-45.8 65.4,-41.5 36.7,-37.2" fill="#050505" stroke="#d8d8d8" stroke-width="1.1"/>
<polygon points="30.0,-40.0 55.0,-44.5 61.0,-41.8 36.5,-38.5" fill="#000" />
<polyline points="27.5,-39 28.5,15" stroke="#cfcfcf" stroke-width="1.1" fill="none"/>
<polyline points="36.7,-37 37.5,18" stroke="#555" stroke-width="0.8" fill="none"/>
<rect x="16.5" y="-15.0" width="11.5" height="27.0" rx="3.4" fill="url(#gPin)"/><ellipse cx="22.2" cy="-13.5" rx="5.0" ry="1.5" fill="#8c8c8c"/>
<path d="M17 -14 Q22 -18 28 -14" stroke="#ddd" stroke-width="1" fill="none"/>
<polygon points="28.7,-18.0 42.0,-20.0 42.0,16.0 28.7,16.0" fill="#1a1a1a" />
<polyline points="28.7,-18 42,-20" stroke="#e0e0e0" stroke-width="1.1" fill="none"/>
<polyline points="29,-18 29.5,16" stroke="#bbb" stroke-width="0.9" fill="none"/>
<polygon points="52.6,-21.0 56.0,-22.0 60.0,-20.0 60.0,17.0 52.6,17.0" fill="#161616" />
<polyline points="52.6,-21 53,17" stroke="#d0d0d0" stroke-width="1" fill="none"/>
<polygon points="71.7,-24.5 89.0,-26.0 97.0,-20.0 97.0,14.0 71.7,18.0" fill="#141414" />
<rect x="80.0" y="-26.0" width="9.0" height="40.0" rx="2.7" fill="url(#gPin)"/><ellipse cx="84.5" cy="-24.5" rx="3.7" ry="1.5" fill="#8c8c8c"/>
<path d="M73 -23 Q80 -28 88 -24" stroke="#e0e0e0" stroke-width="1.1" fill="none"/>
<rect x="88.0" y="-7.0" width="8.0" height="19.0" rx="2.4" fill="url(#gPin)"/><ellipse cx="92.0" cy="-5.5" rx="3.2" ry="1.5" fill="#8c8c8c"/>
<path d="M88 -6 Q92 -10 96 -6" stroke="#e0e0e0" stroke-width="1.1" fill="none"/>
<polygon points="98.3,-25.6 100.4,-26.0 100.4,17.0 98.3,17.0" fill="#0c0c0c" />
<polygon points="46.0,6.0 52.0,5.0 52.0,20.0 46.0,20.0" fill="#1c1c1c" /></g>
<g transform="matrix(0.9577,0.0037,0,0.9686,475.08,854.23)"><rect x="61.0" y="-38.3" width="10.7" height="122.2" rx="3.2" fill="url(#gPin)"/><ellipse cx="66.3" cy="-36.8" rx="4.6" ry="1.5" fill="#8c8c8c"/><rect x="101.0" y="-44.7" width="10.6" height="121.1" rx="3.2" fill="url(#gPin)"/><ellipse cx="106.3" cy="-43.2" rx="4.5" ry="1.5" fill="#8c8c8c"/></g>
<g transform="matrix(0.9366,0.0056,0,0.9529,606.50,834.00)"><rect x="33.0" y="30.0" width="10.0" height="25.0" rx="3.0" fill="url(#gPin)"/></g>
<polygon points="606.5,834.0 650.1,854.2 653.3,876.1 606.5,856.9" fill="url(#gTrayL)" />
<polygon points="624.6,842.3 626.7,843.2 626.7,856.5 624.6,855.6" fill="#222" />
<polygon points="650.1,854.2 726.9,842.3 727.9,864.2 652.9,876.1" fill="#262626" />
<polygon points="650.1,854.2 726.9,842.3 726.9,844.2 650.1,856.1" fill="#555" />
<polygon points="606.5,834.0 619.7,832.2 723.5,839.5 726.9,842.3 650.1,854.2" fill="#0e0e0e" />
<polyline points="606.5,834.0 650.1,854.2 726.9,842.3" fill="none" stroke="#9a9a9a" stroke-width="1"/>
<g transform="matrix(0.9366,0.0056,0,0.9529,606.50,834.00)"><rect x="30.0" y="-66.0" width="10.0" height="36.0" rx="3.0" fill="url(#gPin)"/><ellipse cx="35.0" cy="-64.5" rx="4.2" ry="1.5" fill="#8c8c8c"/></g>
<g transform="matrix(0.9366,0.0056,0,0.9529,609.64,833.41)"><polygon points="20.7,-42.6 29.0,-42.6 65.0,-48.0 70.7,-45.7 70.7,20.0 41.0,20.0 20.7,11.6" fill="#121212" />
<polygon points="27.0,-40.4 55.8,-45.8 65.4,-41.5 36.7,-37.2" fill="#050505" stroke="#d8d8d8" stroke-width="1.1"/>
<polygon points="30.0,-40.0 55.0,-44.5 61.0,-41.8 36.5,-38.5" fill="#000" />
<polyline points="27.5,-39 28.5,15" stroke="#cfcfcf" stroke-width="1.1" fill="none"/>
<polyline points="36.7,-37 37.5,18" stroke="#555" stroke-width="0.8" fill="none"/>
<rect x="16.5" y="-15.0" width="11.5" height="27.0" rx="3.4" fill="url(#gPin)"/><ellipse cx="22.2" cy="-13.5" rx="5.0" ry="1.5" fill="#8c8c8c"/>
<path d="M17 -14 Q22 -18 28 -14" stroke="#ddd" stroke-width="1" fill="none"/>
<polygon points="28.7,-18.0 42.0,-20.0 42.0,16.0 28.7,16.0" fill="#1a1a1a" />
<polyline points="28.7,-18 42,-20" stroke="#e0e0e0" stroke-width="1.1" fill="none"/>
<polyline points="29,-18 29.5,16" stroke="#bbb" stroke-width="0.9" fill="none"/>
<polygon points="52.6,-21.0 56.0,-22.0 60.0,-20.0 60.0,17.0 52.6,17.0" fill="#161616" />
<polyline points="52.6,-21 53,17" stroke="#d0d0d0" stroke-width="1" fill="none"/>
<polygon points="71.7,-24.5 89.0,-26.0 97.0,-20.0 97.0,14.0 71.7,18.0" fill="#141414" />
<rect x="80.0" y="-26.0" width="9.0" height="40.0" rx="2.7" fill="url(#gPin)"/><ellipse cx="84.5" cy="-24.5" rx="3.7" ry="1.5" fill="#8c8c8c"/>
<path d="M73 -23 Q80 -28 88 -24" stroke="#e0e0e0" stroke-width="1.1" fill="none"/>
<rect x="88.0" y="-7.0" width="8.0" height="19.0" rx="2.4" fill="url(#gPin)"/><ellipse cx="92.0" cy="-5.5" rx="3.2" ry="1.5" fill="#8c8c8c"/>
<path d="M88 -6 Q92 -10 96 -6" stroke="#e0e0e0" stroke-width="1.1" fill="none"/>
<polygon points="98.3,-25.6 100.4,-26.0 100.4,17.0 98.3,17.0" fill="#0c0c0c" />
<polygon points="46.0,6.0 52.0,5.0 52.0,20.0 46.0,20.0" fill="#1c1c1c" /></g>
<g transform="matrix(0.9366,0.0056,0,0.9529,612.62,832.85)"><rect x="61.0" y="-38.3" width="10.7" height="122.2" rx="3.2" fill="url(#gPin)"/><ellipse cx="66.3" cy="-36.8" rx="4.6" ry="1.5" fill="#8c8c8c"/><rect x="101.0" y="-44.7" width="10.6" height="121.1" rx="3.2" fill="url(#gPin)"/><ellipse cx="106.3" cy="-43.2" rx="4.5" ry="1.5" fill="#8c8c8c"/></g>
<g transform="matrix(0.9154,0.0074,0,0.9371,738.50,814.00)"><rect x="33.0" y="30.0" width="10.0" height="25.0" rx="3.0" fill="url(#gPin)"/></g>
<polygon points="738.5,814.0 783.0,833.6 786.3,855.1 738.5,836.5" fill="url(#gTrayL)" />
<polygon points="757.0,822.0 759.1,822.9 759.1,836.0 757.0,835.1" fill="#222" />
<polygon points="783.0,833.6 858.1,822.0 859.0,843.6 785.8,855.2" fill="#262626" />
<polygon points="783.0,833.6 858.1,822.0 858.1,823.9 783.0,835.5" fill="#555" />
<polygon points="738.5,814.0 751.4,812.2 854.5,819.4 858.1,822.0 783.0,833.6" fill="#0e0e0e" />
<polyline points="738.5,814.0 783.0,833.6 858.1,822.0" fill="none" stroke="#9a9a9a" stroke-width="1"/>
<g transform="matrix(0.9154,0.0074,0,0.9371,738.50,814.00)"><rect x="30.0" y="-66.0" width="10.0" height="36.0" rx="3.0" fill="url(#gPin)"/><ellipse cx="35.0" cy="-64.5" rx="4.2" ry="1.5" fill="#8c8c8c"/></g>
<g transform="matrix(0.9154,0.0074,0,0.9371,742.68,813.21)"><polygon points="20.7,-42.6 29.0,-42.6 65.0,-48.0 70.7,-45.7 70.7,20.0 41.0,20.0 20.7,11.6" fill="#121212" />
<polygon points="27.0,-40.4 55.8,-45.8 65.4,-41.5 36.7,-37.2" fill="#050505" stroke="#d8d8d8" stroke-width="1.1"/>
<polygon points="30.0,-40.0 55.0,-44.5 61.0,-41.8 36.5,-38.5" fill="#000" />
<polyline points="27.5,-39 28.5,15" stroke="#cfcfcf" stroke-width="1.1" fill="none"/>
<polyline points="36.7,-37 37.5,18" stroke="#555" stroke-width="0.8" fill="none"/>
<rect x="16.5" y="-15.0" width="11.5" height="27.0" rx="3.4" fill="url(#gPin)"/><ellipse cx="22.2" cy="-13.5" rx="5.0" ry="1.5" fill="#8c8c8c"/>
<path d="M17 -14 Q22 -18 28 -14" stroke="#ddd" stroke-width="1" fill="none"/>
<polygon points="28.7,-18.0 42.0,-20.0 42.0,16.0 28.7,16.0" fill="#1a1a1a" />
<polyline points="28.7,-18 42,-20" stroke="#e0e0e0" stroke-width="1.1" fill="none"/>
<polyline points="29,-18 29.5,16" stroke="#bbb" stroke-width="0.9" fill="none"/>
<polygon points="52.6,-21.0 56.0,-22.0 60.0,-20.0 60.0,17.0 52.6,17.0" fill="#161616" />
<polyline points="52.6,-21 53,17" stroke="#d0d0d0" stroke-width="1" fill="none"/>
<polygon points="71.7,-24.5 89.0,-26.0 97.0,-20.0 97.0,14.0 71.7,18.0" fill="#141414" />
<rect x="80.0" y="-26.0" width="9.0" height="40.0" rx="2.7" fill="url(#gPin)"/><ellipse cx="84.5" cy="-24.5" rx="3.7" ry="1.5" fill="#8c8c8c"/>
<path d="M73 -23 Q80 -28 88 -24" stroke="#e0e0e0" stroke-width="1.1" fill="none"/>
<rect x="88.0" y="-7.0" width="8.0" height="19.0" rx="2.4" fill="url(#gPin)"/><ellipse cx="92.0" cy="-5.5" rx="3.2" ry="1.5" fill="#8c8c8c"/>
<path d="M88 -6 Q92 -10 96 -6" stroke="#e0e0e0" stroke-width="1.1" fill="none"/>
<polygon points="98.3,-25.6 100.4,-26.0 100.4,17.0 98.3,17.0" fill="#0c0c0c" />
<polygon points="46.0,6.0 52.0,5.0 52.0,20.0 46.0,20.0" fill="#1c1c1c" /></g>
<g transform="matrix(0.9154,0.0074,0,0.9371,746.66,812.46)"><rect x="61.0" y="-38.3" width="10.7" height="122.2" rx="3.2" fill="url(#gPin)"/><ellipse cx="66.3" cy="-36.8" rx="4.6" ry="1.5" fill="#8c8c8c"/><rect x="101.0" y="-44.7" width="10.6" height="121.1" rx="3.2" fill="url(#gPin)"/><ellipse cx="106.3" cy="-43.2" rx="4.5" ry="1.5" fill="#8c8c8c"/></g>
<g transform="matrix(0.8943,0.0093,0,0.9214,867.00,793.00)"><rect x="33.0" y="30.0" width="10.0" height="25.0" rx="3.0" fill="url(#gPin)"/></g>
<polygon points="867.0,793.0 912.4,812.0 915.7,833.1 867.0,815.1" fill="url(#gTrayL)" />
<polygon points="885.8,800.8 888.0,801.6 888.0,814.5 885.8,813.7" fill="#222" />
<polygon points="912.4,812.0 985.7,800.8 986.6,822.0 915.1,833.2" fill="#262626" />
<polygon points="912.4,812.0 985.7,800.8 985.7,802.6 912.4,813.9" fill="#555" />
<polygon points="867.0,793.0 879.6,791.3 982.0,798.2 985.7,800.8 912.4,812.0" fill="#0e0e0e" />
<polyline points="867.0,793.0 912.4,812.0 985.7,800.8" fill="none" stroke="#9a9a9a" stroke-width="1"/>
<g transform="matrix(0.8943,0.0093,0,0.9214,867.00,793.00)"><rect x="30.0" y="-66.0" width="10.0" height="36.0" rx="3.0" fill="url(#gPin)"/><ellipse cx="35.0" cy="-64.5" rx="4.2" ry="1.5" fill="#8c8c8c"/></g>
<g transform="matrix(0.8943,0.0093,0,0.9214,872.23,792.01)"><polygon points="20.7,-42.6 29.0,-42.6 65.0,-48.0 70.7,-45.7 70.7,20.0 41.0,20.0 20.7,11.6" fill="#121212" />
<polygon points="27.0,-40.4 55.8,-45.8 65.4,-41.5 36.7,-37.2" fill="#050505" stroke="#d8d8d8" stroke-width="1.1"/>
<polygon points="30.0,-40.0 55.0,-44.5 61.0,-41.8 36.5,-38.5" fill="#000" />
<polyline points="27.5,-39 28.5,15" stroke="#cfcfcf" stroke-width="1.1" fill="none"/>
<polyline points="36.7,-37 37.5,18" stroke="#555" stroke-width="0.8" fill="none"/>
<rect x="16.5" y="-15.0" width="11.5" height="27.0" rx="3.4" fill="url(#gPin)"/><ellipse cx="22.2" cy="-13.5" rx="5.0" ry="1.5" fill="#8c8c8c"/>
<path d="M17 -14 Q22 -18 28 -14" stroke="#ddd" stroke-width="1" fill="none"/>
<polygon points="28.7,-18.0 42.0,-20.0 42.0,16.0 28.7,16.0" fill="#1a1a1a" />
<polyline points="28.7,-18 42,-20" stroke="#e0e0e0" stroke-width="1.1" fill="none"/>
<polyline points="29,-18 29.5,16" stroke="#bbb" stroke-width="0.9" fill="none"/>
<polygon points="52.6,-21.0 56.0,-22.0 60.0,-20.0 60.0,17.0 52.6,17.0" fill="#161616" />
<polyline points="52.6,-21 53,17" stroke="#d0d0d0" stroke-width="1" fill="none"/>
<polygon points="71.7,-24.5 89.0,-26.0 97.0,-20.0 97.0,14.0 71.7,18.0" fill="#141414" />
<rect x="80.0" y="-26.0" width="9.0" height="40.0" rx="2.7" fill="url(#gPin)"/><ellipse cx="84.5" cy="-24.5" rx="3.7" ry="1.5" fill="#8c8c8c"/>
<path d="M73 -23 Q80 -28 88 -24" stroke="#e0e0e0" stroke-width="1.1" fill="none"/>
<rect x="88.0" y="-7.0" width="8.0" height="19.0" rx="2.4" fill="url(#gPin)"/><ellipse cx="92.0" cy="-5.5" rx="3.2" ry="1.5" fill="#8c8c8c"/>
<path d="M88 -6 Q92 -10 96 -6" stroke="#e0e0e0" stroke-width="1.1" fill="none"/>
<polygon points="98.3,-25.6 100.4,-26.0 100.4,17.0 98.3,17.0" fill="#0c0c0c" />
<polygon points="46.0,6.0 52.0,5.0 52.0,20.0 46.0,20.0" fill="#1c1c1c" /></g>
<g transform="matrix(0.8943,0.0093,0,0.9214,877.20,791.08)"><rect x="61.0" y="-38.3" width="10.7" height="122.2" rx="3.2" fill="url(#gPin)"/><ellipse cx="66.3" cy="-36.8" rx="4.6" ry="1.5" fill="#8c8c8c"/><rect x="101.0" y="-44.7" width="10.6" height="121.1" rx="3.2" fill="url(#gPin)"/><ellipse cx="106.3" cy="-43.2" rx="4.5" ry="1.5" fill="#8c8c8c"/></g>
<g transform="matrix(0.8731,0.0111,0,0.9057,993.00,772.50)"><rect x="33.0" y="30.0" width="10.0" height="25.0" rx="3.0" fill="url(#gPin)"/></g>
<polygon points="993.0,772.5 1039.3,790.9 1042.6,811.6 993.0,794.2" fill="url(#gTrayL)" />
<polygon points="1012.2,780.0 1014.4,780.9 1014.4,793.5 1012.2,792.7" fill="#222" />
<polygon points="1039.3,790.9 1110.9,780.1 1111.7,800.9 1041.9,811.8" fill="#262626" />
<polygon points="1039.3,790.9 1110.9,780.1 1110.9,781.9 1039.3,792.7" fill="#555" />
<polygon points="993.0,772.5 1005.3,770.8 1107.0,777.5 1110.9,780.1 1039.3,790.9" fill="#0e0e0e" />
<polyline points="993.0,772.5 1039.3,790.9 1110.9,780.1" fill="none" stroke="#9a9a9a" stroke-width="1"/>
<g transform="matrix(0.8731,0.0111,0,0.9057,993.00,772.50)"><rect x="30.0" y="-66.0" width="10.0" height="36.0" rx="3.0" fill="url(#gPin)"/><ellipse cx="35.0" cy="-64.5" rx="4.2" ry="1.5" fill="#8c8c8c"/></g>
<g transform="matrix(0.8731,0.0111,0,0.9057,999.27,771.32)"><polygon points="20.7,-42.6 29.0,-42.6 65.0,-48.0 70.7,-45.7 70.7,20.0 41.0,20.0 20.7,11.6" fill="#121212" />
<polygon points="27.0,-40.4 55.8,-45.8 65.4,-41.5 36.7,-37.2" fill="#050505" stroke="#d8d8d8" stroke-width="1.1"/>
<polygon points="30.0,-40.0 55.0,-44.5 61.0,-41.8 36.5,-38.5" fill="#000" />
<polyline points="27.5,-39 28.5,15" stroke="#cfcfcf" stroke-width="1.1" fill="none"/>
<polyline points="36.7,-37 37.5,18" stroke="#555" stroke-width="0.8" fill="none"/>
<rect x="16.5" y="-15.0" width="11.5" height="27.0" rx="3.4" fill="url(#gPin)"/><ellipse cx="22.2" cy="-13.5" rx="5.0" ry="1.5" fill="#8c8c8c"/>
<path d="M17 -14 Q22 -18 28 -14" stroke="#ddd" stroke-width="1" fill="none"/>
<polygon points="28.7,-18.0 42.0,-20.0 42.0,16.0 28.7,16.0" fill="#1a1a1a" />
<polyline points="28.7,-18 42,-20" stroke="#e0e0e0" stroke-width="1.1" fill="none"/>
<polyline points="29,-18 29.5,16" stroke="#bbb" stroke-width="0.9" fill="none"/>
<polygon points="52.6,-21.0 56.0,-22.0 60.0,-20.0 60.0,17.0 52.6,17.0" fill="#161616" />
<polyline points="52.6,-21 53,17" stroke="#d0d0d0" stroke-width="1" fill="none"/>
<polygon points="71.7,-24.5 89.0,-26.0 97.0,-20.0 97.0,14.0 71.7,18.0" fill="#141414" />
<rect x="80.0" y="-26.0" width="9.0" height="40.0" rx="2.7" fill="url(#gPin)"/><ellipse cx="84.5" cy="-24.5" rx="3.7" ry="1.5" fill="#8c8c8c"/>
<path d="M73 -23 Q80 -28 88 -24" stroke="#e0e0e0" stroke-width="1.1" fill="none"/>
<rect x="88.0" y="-7.0" width="8.0" height="19.0" rx="2.4" fill="url(#gPin)"/><ellipse cx="92.0" cy="-5.5" rx="3.2" ry="1.5" fill="#8c8c8c"/>
<path d="M88 -6 Q92 -10 96 -6" stroke="#e0e0e0" stroke-width="1.1" fill="none"/>
<polygon points="98.3,-25.6 100.4,-26.0 100.4,17.0 98.3,17.0" fill="#0c0c0c" />
<polygon points="46.0,6.0 52.0,5.0 52.0,20.0 46.0,20.0" fill="#1c1c1c" /></g>
<g transform="matrix(0.8731,0.0111,0,0.9057,1005.23,770.19)"><rect x="61.0" y="-38.3" width="10.7" height="122.2" rx="3.2" fill="url(#gPin)"/><ellipse cx="66.3" cy="-36.8" rx="4.6" ry="1.5" fill="#8c8c8c"/><rect x="101.0" y="-44.7" width="10.6" height="121.1" rx="3.2" fill="url(#gPin)"/><ellipse cx="106.3" cy="-43.2" rx="4.5" ry="1.5" fill="#8c8c8c"/></g>
<g transform="matrix(0.8520,0.0130,0,0.8900,1116.00,752.00)"><rect x="33.0" y="30.0" width="10.0" height="25.0" rx="3.0" fill="url(#gPin)"/></g>
<polygon points="1116.0,752.0 1163.1,769.8 1166.6,790.2 1116.0,773.4" fill="url(#gTrayL)" />
<polygon points="1135.5,759.3 1137.8,760.1 1137.8,772.5 1135.5,771.7" fill="#222" />
<polygon points="1163.1,769.8 1233.0,759.3 1233.8,779.8 1165.7,790.3" fill="#262626" />
<polygon points="1163.1,769.8 1233.0,759.3 1233.0,761.1 1163.1,771.6" fill="#555" />
<polygon points="1116.0,752.0 1128.0,750.4 1229.0,756.9 1233.0,759.3 1163.1,769.8" fill="#0e0e0e" />
<polyline points="1116.0,752.0 1163.1,769.8 1233.0,759.3" fill="none" stroke="#9a9a9a" stroke-width="1"/>
<g transform="matrix(0.8520,0.0130,0,0.8900,1116.00,752.00)"><rect x="30.0" y="-66.0" width="10.0" height="36.0" rx="3.0" fill="url(#gPin)"/><ellipse cx="35.0" cy="-64.5" rx="4.2" ry="1.5" fill="#8c8c8c"/></g>
<g transform="matrix(0.8520,0.0130,0,0.8900,1123.32,750.62)"><polygon points="20.7,-42.6 29.0,-42.6 65.0,-48.0 70.7,-45.7 70.7,20.0 41.0,20.0 20.7,11.6" fill="#121212" />
<polygon points="27.0,-40.4 55.8,-45.8 65.4,-41.5 36.7,-37.2" fill="#050505" stroke="#d8d8d8" stroke-width="1.1"/>
<polygon points="30.0,-40.0 55.0,-44.5 61.0,-41.8 36.5,-38.5" fill="#000" />
<polyline points="27.5,-39 28.5,15" stroke="#cfcfcf" stroke-width="1.1" fill="none"/>
<polyline points="36.7,-37 37.5,18" stroke="#555" stroke-width="0.8" fill="none"/>
<rect x="16.5" y="-15.0" width="11.5" height="27.0" rx="3.4" fill="url(#gPin)"/><ellipse cx="22.2" cy="-13.5" rx="5.0" ry="1.5" fill="#8c8c8c"/>
<path d="M17 -14 Q22 -18 28 -14" stroke="#ddd" stroke-width="1" fill="none"/>
<polygon points="28.7,-18.0 42.0,-20.0 42.0,16.0 28.7,16.0" fill="#1a1a1a" />
<polyline points="28.7,-18 42,-20" stroke="#e0e0e0" stroke-width="1.1" fill="none"/>
<polyline points="29,-18 29.5,16" stroke="#bbb" stroke-width="0.9" fill="none"/>
<polygon points="52.6,-21.0 56.0,-22.0 60.0,-20.0 60.0,17.0 52.6,17.0" fill="#161616" />
<polyline points="52.6,-21 53,17" stroke="#d0d0d0" stroke-width="1" fill="none"/>
<polygon points="71.7,-24.5 89.0,-26.0 97.0,-20.0 97.0,14.0 71.7,18.0" fill="#141414" />
<rect x="80.0" y="-26.0" width="9.0" height="40.0" rx="2.7" fill="url(#gPin)"/><ellipse cx="84.5" cy="-24.5" rx="3.7" ry="1.5" fill="#8c8c8c"/>
<path d="M73 -23 Q80 -28 88 -24" stroke="#e0e0e0" stroke-width="1.1" fill="none"/>
<rect x="88.0" y="-7.0" width="8.0" height="19.0" rx="2.4" fill="url(#gPin)"/><ellipse cx="92.0" cy="-5.5" rx="3.2" ry="1.5" fill="#8c8c8c"/>
<path d="M88 -6 Q92 -10 96 -6" stroke="#e0e0e0" stroke-width="1.1" fill="none"/>
<polygon points="98.3,-25.6 100.4,-26.0 100.4,17.0 98.3,17.0" fill="#0c0c0c" />
<polygon points="46.0,6.0 52.0,5.0 52.0,20.0 46.0,20.0" fill="#1c1c1c" /></g>
<g transform="matrix(0.8520,0.0130,0,0.8900,1130.27,749.31)"><rect x="61.0" y="-38.3" width="10.7" height="122.2" rx="3.2" fill="url(#gPin)"/><ellipse cx="66.3" cy="-36.8" rx="4.6" ry="1.5" fill="#8c8c8c"/><rect x="101.0" y="-44.7" width="10.6" height="121.1" rx="3.2" fill="url(#gPin)"/><ellipse cx="106.3" cy="-43.2" rx="4.5" ry="1.5" fill="#8c8c8c"/></g>
<polygon points="191.0,752.0 1215.0,600.0 1215.0,606.0 191.0,758.5" fill="#dcae93" />
<polyline points="191,752.5 1215,600.5" stroke="#f3d3c0" stroke-width="1" fill="none"/>
<polygon points="190.0,757.0 208.0,753.0 222.0,757.0 200.0,763.0" fill="#d9a98d" />
<ellipse cx="203" cy="757.5" rx="3" ry="1.5" fill="#fff"/>
<polygon points="210.0,793.0 1230.0,645.0 1230.0,653.0 210.0,801.0" fill="url(#gBent)" />
<polygon points="210.0,801.0 1230.0,653.0 1230.0,667.6 210.0,818.0" fill="#ecc4aa" />
<line x1="272" y1="805" x2="272" y2="819.5" stroke="#c89a80" stroke-width="1"/>
<use href="#clip" transform="translate(212.0,740.0) scale(1.0000)"/>
<use href="#clip" transform="translate(356.0,720.0) scale(0.9857)"/>
<use href="#clip" transform="translate(495.0,700.0) scale(0.9714)"/>
<use href="#clip" transform="translate(632.0,679.0) scale(0.9571)"/>
<use href="#clip" transform="translate(766.0,660.0) scale(0.9429)"/>
<use href="#clip" transform="translate(893.0,640.0) scale(0.9286)"/>
<use href="#clip" transform="translate(1019.0,622.0) scale(0.9143)"/>
<use href="#clip" transform="translate(1143.0,601.0) scale(0.9000)"/>
<polygon points="1143.3,605.5 1173.6,601.0 1175.1,607.3 1185.3,606.8 1183.9,612.2 1178.1,613.1 1170.5,616.3 1162.5,619.9 1152.9,619.0 1145.7,612.7" fill="#1e3a1c" opacity="0.85"/>
<polygon points="138.0,636.0 1387.0,461.0 1471.0,484.0 209.0,665.0" fill="url(#gTopF)" />
<polygon points="209.0,665.0 1471.0,484.0 1469.0,542.0 1467.0,546.0 209.0,735.0" fill="url(#gFrontF)" />
<polygon points="138.0,636.0 209.0,665.0 209.0,735.0 143.0,712.0" fill="#0b0b0b" />
<polygon points="141.0,652.0 205.0,679.0 205.0,684.0 141.0,657.0" fill="#1e1e1e" />
<polygon points="141.0,667.0 205.0,694.0 205.0,699.0 141.0,673.0" fill="#303030" />
<polygon points="141.0,673.0 205.0,699.0 205.0,706.0 141.0,681.0" fill="#141414" />
<polygon points="143.0,688.0 205.0,712.0 205.0,716.0 143.0,692.0" fill="#2a2a2a" />
<polyline points="138,636 209,665" stroke="#d8d8d8" stroke-width="1.6" fill="none"/>
<polyline points="139,638 141,670 143,712" stroke="#9a9a9a" stroke-width="1.2" fill="none"/>
<polyline points="207,667 207,735" stroke="#b5b5b5" stroke-width="1.2" fill="none"/>
<path d="M146 668 a4 5 0 1 0 0 10" stroke="#e0e0e0" stroke-width="1.3" fill="none"/>
<path d="M209 695 a4 5 0 1 0 0 10" stroke="#e0e0e0" stroke-width="1.3" fill="none"/>
<polyline points="138,636 1387,461 1471,484" stroke="#2a2a2a" stroke-width="1" fill="none"/>
<polyline points="209,665 1471,484" stroke="#c8c8c8" stroke-width="1.2" fill="none"/>
<polyline points="209,666.5 1471,485.5" stroke="#111" stroke-width="1.5" fill="none"/>
<polygon points="186.0,636.0 258.0,626.0 304.0,644.0 227.0,655.0" fill="#121212" stroke="#d5d5d5" stroke-width="1.1"/>
<polygon points="258.0,626.0 304.0,644.0 299.0,644.0 255.0,628.5" fill="#2e2e2e" />
<polygon points="330.0,615.0 401.0,606.0 446.0,622.0 375.0,634.0" fill="#121212" stroke="#d5d5d5" stroke-width="1.1"/>
<polygon points="401.0,606.0 446.0,622.0 441.0,622.0 398.0,608.5" fill="#2e2e2e" />
<polygon points="471.0,595.0 540.0,586.0 586.0,602.0 514.0,614.0" fill="#121212" stroke="#d5d5d5" stroke-width="1.1"/>
<polygon points="540.0,586.0 586.0,602.0 581.0,602.0 537.0,588.5" fill="#2e2e2e" />
<polygon points="607.0,576.0 675.0,567.0 722.0,584.0 652.0,594.0" fill="#121212" stroke="#d5d5d5" stroke-width="1.1"/>
<polygon points="675.0,567.0 722.0,584.0 717.0,584.0 672.0,569.5" fill="#2e2e2e" />
<polygon points="741.0,557.0 807.0,549.0 855.0,565.0 785.0,575.0" fill="#121212" stroke="#d5d5d5" stroke-width="1.1"/>
<polygon points="807.0,549.0 855.0,565.0 850.0,565.0 804.0,551.5" fill="#2e2e2e" />
<polygon points="871.0,539.0 936.0,531.0 985.0,546.0 916.0,556.0" fill="#121212" stroke="#d5d5d5" stroke-width="1.1"/>
<polygon points="936.0,531.0 985.0,546.0 980.0,546.0 933.0,533.5" fill="#2e2e2e" />
<polygon points="999.0,521.0 1060.0,513.0 1110.0,528.0 1045.0,537.0" fill="#121212" stroke="#d5d5d5" stroke-width="1.1"/>
<polygon points="1060.0,513.0 1110.0,528.0 1105.0,528.0 1057.0,515.5" fill="#2e2e2e" />
<polygon points="1122.0,504.0 1185.0,496.0 1234.0,510.0 1170.0,519.0" fill="#121212" stroke="#d5d5d5" stroke-width="1.1"/>
<polygon points="1185.0,496.0 1234.0,510.0 1229.0,510.0 1182.0,498.5" fill="#2e2e2e" />
<polygon points="1272.0,481.0 1322.0,475.0 1366.0,493.0 1332.0,499.0" fill="#121212" stroke="#d5d5d5" stroke-width="1.1"/>
<polygon points="1322.0,475.0 1366.0,493.0 1361.0,493.0 1319.0,477.5" fill="#2e2e2e" />
<ellipse cx="1236" cy="499" rx="9" ry="4" fill="#1a1a1a"/>
<polygon points="185.0,526.0 226.0,540.0 226.0,614.0 217.0,612.0 217.0,617.0 211.0,615.0 211.0,610.0 207.0,608.0 207.0,612.0 201.0,610.0 201.0,599.0 186.0,599.0" fill="url(#gOutSide)" />
<polygon points="187.0,544.0 200.0,549.0 201.0,598.0 187.0,594.0" fill="#161616" />
<polygon points="194.5,547.0 198.5,548.5 198.5,580.0 194.5,578.0" fill="#f4f4f4" />
<polygon points="212.0,580.0 216.0,582.0 216.0,617.0 212.0,615.0" fill="#1a1a1a" />
<polygon points="202.0,598.0 207.0,600.0 207.0,612.0 202.0,610.0" fill="#1a1a1a" />
<polygon points="225.0,539.0 300.0,530.0 301.0,605.0 225.0,614.0" fill="#262626" />
<polygon points="221.0,540.0 226.0,541.0 226.0,548.0 221.0,546.0" fill="#181818" />
<polygon points="252.0,538.0 254.0,538.0 254.0,611.0 252.0,611.0" fill="#111" />
<polygon points="257.0,539.0 272.0,538.0 272.0,592.0 257.0,594.0" fill="#141414" />
<polygon points="263.0,542.0 270.0,541.0 269.0,572.0 264.0,588.0 262.0,588.0" fill="#2c2c2c" />
<polygon points="176.0,518.0 221.0,537.0 221.0,542.0 176.0,523.0" fill="#2c2c2c" />
<polygon points="221.0,537.0 308.0,526.0 308.0,531.0 221.0,542.0" fill="#1c1c1c" />
<polygon points="176.0,518.0 256.0,507.0 308.0,526.0 221.0,537.0" fill="#3a3a3a" />
<polygon points="181.4,516.5 252.0,507.5 301.0,523.0 226.0,533.0" fill="url(#gOutTop)" stroke="#141414" stroke-width="1.3"/>
<polygon points="214.0,516.0 217.0,512.0 228.0,510.5 239.0,511.0 243.0,515.0 239.0,519.0 228.0,519.5 217.0,519.0" fill="#0e0e0e" />
<polygon points="216.0,525.0 231.0,523.0 244.0,528.0 229.5,531.0" fill="#101010" />
<polygon points="258.0,518.6 271.0,516.7 290.0,522.3 277.0,524.2" fill="#101010" />
<polyline points="177.0,518.5 221.0,537.3 307.0,526.3" fill="none" stroke="#9a9a9a" stroke-width="0.9"/>
<polyline points="217.0,513.0 228.0,511.0 239.0,511.5 242.0,515.0" fill="none" stroke="#4a4a4a" stroke-width="1.1"/>
<polygon points="330.0,508.9 371.9,522.4 371.9,595.5 362.7,593.6 362.7,598.5 356.6,596.6 356.6,591.6 352.5,589.7 352.5,593.6 346.3,591.7 346.3,580.8 331.0,580.9" fill="url(#gOutSide)" />
<polygon points="332.0,526.6 345.3,531.5 346.3,579.8 332.0,576.0" fill="#161616" />
<polygon points="339.7,529.5 343.8,531.0 343.8,562.1 339.7,560.1" fill="#f4f4f4" />
<polygon points="357.6,562.0 361.7,564.0 361.7,598.5 357.6,596.5" fill="#1a1a1a" />
<polygon points="347.4,579.8 352.5,581.8 352.5,593.6 347.4,591.7" fill="#1a1a1a" />
<polygon points="370.9,521.5 444.1,512.6 445.1,586.6 370.9,595.5" fill="#262626" />
<polygon points="367.0,522.4 371.9,523.4 371.9,530.3 367.0,528.4" fill="#181818" />
<polygon points="397.3,520.5 399.2,520.5 399.2,592.5 397.3,592.5" fill="#111" />
<polygon points="402.2,521.5 416.8,520.5 416.8,573.8 402.2,575.7" fill="#141414" />
<polygon points="408.0,524.4 414.8,523.4 413.9,554.0 409.0,569.8 407.0,569.8" fill="#2c2c2c" />
<polygon points="321.0,501.0 367.0,519.5 367.0,524.4 321.0,505.9" fill="#2c2c2c" />
<polygon points="367.0,519.5 452.0,508.7 452.0,513.6 367.0,524.4" fill="#1c1c1c" />
<polygon points="321.0,501.0 399.0,490.2 452.0,508.7 367.0,519.5" fill="#3a3a3a" />
<polygon points="326.2,499.5 395.1,490.7 444.8,505.7 371.6,515.6" fill="url(#gOutTop)" stroke="#141414" stroke-width="1.3"/>
<polygon points="358.3,499.0 361.0,495.1 371.7,493.6 382.6,494.1 386.9,498.0 383.3,501.9 372.5,502.4 361.6,501.9" fill="#0e0e0e" />
<polygon points="361.1,507.8 375.7,505.8 389.0,510.7 374.9,513.6" fill="#101010" />
<polygon points="402.0,501.5 414.7,499.6 433.9,505.1 421.2,506.9" fill="#101010" />
<polyline points="322.0,501.5 367.0,519.8 451.0,509.0" fill="none" stroke="#9a9a9a" stroke-width="0.9"/>
<polyline points="361.1,496.1 371.7,494.1 382.6,494.6 385.9,498.0" fill="none" stroke="#4a4a4a" stroke-width="1.1"/>
<polygon points="471.9,489.7 514.8,502.9 514.8,575.0 505.4,573.1 505.4,578.0 499.1,576.1 499.1,571.2 494.9,569.3 494.9,573.2 488.7,571.3 488.7,560.6 473.0,560.8" fill="url(#gOutSide)" />
<polygon points="474.0,507.2 487.6,512.0 488.7,559.7 474.0,555.9" fill="#161616" />
<polygon points="481.9,510.1 486.0,511.5 486.0,542.2 481.9,540.3" fill="#f4f4f4" />
<polygon points="500.1,542.0 504.3,543.9 504.3,578.0 500.1,576.1" fill="#1a1a1a" />
<polygon points="489.7,559.7 494.9,561.5 494.9,573.2 489.7,571.3" fill="#1a1a1a" />
<polygon points="513.8,501.9 585.3,493.2 586.2,566.2 513.8,574.9" fill="#262626" />
<polygon points="510.0,502.9 514.8,503.9 514.8,510.7 510.0,508.7" fill="#181818" />
<polygon points="539.5,501.0 541.5,501.0 541.5,572.0 539.5,572.0" fill="#111" />
<polygon points="544.3,501.9 558.6,501.0 558.6,553.6 544.3,555.5" fill="#141414" />
<polygon points="550.0,504.9 556.7,503.9 555.7,534.1 551.0,549.7 549.1,549.7" fill="#2c2c2c" />
<polygon points="463.0,482.0 510.0,500.0 510.0,504.8 463.0,486.9" fill="#2c2c2c" />
<polygon points="510.0,500.0 592.9,489.3 592.9,494.2 510.0,504.8" fill="#1c1c1c" />
<polygon points="463.0,482.0 539.1,471.4 592.9,489.3 510.0,500.0" fill="#3a3a3a" />
<polygon points="468.0,480.6 535.3,471.8 585.6,486.5 514.2,496.2" fill="url(#gOutTop)" stroke="#141414" stroke-width="1.3"/>
<polygon points="499.7,480.0 501.9,476.2 512.4,474.8 523.2,475.2 527.8,479.0 524.5,482.8 513.9,483.3 503.1,482.9" fill="#0e0e0e" />
<polygon points="503.1,488.6 517.4,486.6 530.9,491.4 517.3,494.2" fill="#101010" />
<polygon points="543.0,482.4 555.3,480.6 574.8,485.8 562.4,487.7" fill="#101010" />
<polyline points="464.1,482.5 510.0,500.3 592.0,489.6" fill="none" stroke="#9a9a9a" stroke-width="0.9"/>
<polyline points="502.1,477.2 512.5,475.2 523.3,475.7 526.8,479.0" fill="none" stroke="#4a4a4a" stroke-width="1.1"/>
<polygon points="609.9,472.6 653.7,485.3 653.7,556.4 644.1,554.7 644.1,559.5 637.7,557.7 637.7,552.8 633.4,551.0 633.4,554.8 627.0,553.0 627.0,542.5 611.0,542.7" fill="url(#gOutSide)" />
<polygon points="612.1,489.9 625.9,494.4 627.0,541.5 612.1,537.9" fill="#161616" />
<polygon points="620.1,492.6 624.3,494.0 624.3,524.3 620.1,522.4" fill="#f4f4f4" />
<polygon points="638.7,524.0 643.0,525.9 643.0,559.5 638.7,557.6" fill="#1a1a1a" />
<polygon points="628.1,541.5 633.4,543.3 633.4,554.8 628.1,553.0" fill="#1a1a1a" />
<polygon points="652.7,484.4 722.4,475.8 723.4,547.9 652.7,556.4" fill="#262626" />
<polygon points="649.0,485.3 653.6,486.3 653.6,493.0 649.0,491.1" fill="#181818" />
<polygon points="677.8,483.4 679.7,483.4 679.7,553.6 677.8,553.6" fill="#111" />
<polygon points="682.5,484.4 696.4,483.5 696.4,535.3 682.5,537.2" fill="#141414" />
<polygon points="688.0,487.3 694.5,486.3 693.6,516.1 689.0,531.5 687.1,531.5" fill="#2c2c2c" />
<polygon points="601.0,465.0 649.0,482.5 649.0,487.3 601.0,469.8" fill="#2c2c2c" />
<polygon points="649.0,482.5 729.9,472.0 729.9,476.8 649.0,487.3" fill="#1c1c1c" />
<polygon points="601.0,465.0 675.1,454.5 729.9,472.0 649.0,482.5" fill="#3a3a3a" />
<polygon points="605.8,463.6 671.4,455.0 722.4,469.2 652.8,478.7" fill="url(#gOutTop)" stroke="#141414" stroke-width="1.3"/>
<polygon points="637.0,463.0 638.9,459.3 649.1,457.9 659.8,458.3 664.6,462.0 661.8,465.7 651.4,466.2 640.7,465.8" fill="#0e0e0e" />
<polygon points="641.2,471.4 655.1,469.4 668.9,474.0 655.7,476.9" fill="#101010" />
<polygon points="680.0,465.3 692.0,463.5 711.6,468.6 699.6,470.4" fill="#101010" />
<polyline points="602.1,465.5 649.1,482.7 729.0,472.3" fill="none" stroke="#9a9a9a" stroke-width="0.9"/>
<polyline points="639.2,460.2 649.2,458.3 659.9,458.8 663.7,462.0" fill="none" stroke="#4a4a4a" stroke-width="1.1"/>
<polygon points="742.9,455.5 787.5,467.8 787.5,537.9 777.7,536.2 777.7,541.0 771.2,539.2 771.2,534.5 766.8,532.7 766.8,536.5 760.3,534.7 760.3,524.3 744.0,524.6" fill="url(#gOutSide)" />
<polygon points="745.1,472.5 759.2,476.9 760.3,523.3 745.1,519.9" fill="#161616" />
<polygon points="753.2,475.2 757.6,476.5 757.6,506.3 753.2,504.5" fill="#f4f4f4" />
<polygon points="772.3,506.0 776.6,507.8 776.6,541.0 772.3,539.2" fill="#1a1a1a" />
<polygon points="761.4,523.3 766.8,525.1 766.8,536.5 761.4,534.7" fill="#1a1a1a" />
<polygon points="786.6,466.8 854.6,458.4 855.5,529.5 786.6,537.9" fill="#262626" />
<polygon points="783.0,467.8 787.5,468.7 787.5,475.4 783.0,473.5" fill="#181818" />
<polygon points="811.1,465.9 812.9,465.9 812.9,535.1 811.1,535.1" fill="#111" />
<polygon points="815.6,466.9 829.2,466.0 829.2,517.1 815.6,519.0" fill="#141414" />
<polygon points="821.1,469.7 827.4,468.8 826.5,498.2 822.0,513.3 820.1,513.3" fill="#2c2c2c" />
<polygon points="734.0,448.0 783.0,464.9 783.0,469.7 734.0,452.7" fill="#2c2c2c" />
<polygon points="783.0,464.9 861.8,454.6 861.8,459.4 783.0,469.7" fill="#1c1c1c" />
<polygon points="734.0,448.0 806.2,437.7 861.8,454.6 783.0,464.9" fill="#3a3a3a" />
<polygon points="738.6,446.6 802.6,438.2 854.2,452.0 786.4,461.3" fill="url(#gOutTop)" stroke="#141414" stroke-width="1.3"/>
<polygon points="769.4,446.0 770.9,442.4 780.8,441.0 791.4,441.4 796.5,445.0 794.1,448.6 783.8,449.1 773.2,448.7" fill="#0e0e0e" />
<polygon points="774.3,454.1 787.8,452.3 801.8,456.7 789.1,459.5" fill="#101010" />
<polygon points="812.0,448.2 823.6,446.4 843.5,451.4 831.8,453.1" fill="#101010" />
<polyline points="735.1,448.4 783.1,465.2 861.0,454.9" fill="none" stroke="#9a9a9a" stroke-width="0.9"/>
<polyline points="771.2,443.3 781.0,441.5 791.6,441.9 795.6,445.0" fill="none" stroke="#4a4a4a" stroke-width="1.1"/>
<polygon points="874.9,436.4 920.4,448.2 920.4,517.4 910.4,515.8 910.4,520.4 903.8,518.8 903.8,514.1 899.3,512.3 899.3,516.1 892.6,514.4 892.6,504.1 876.0,504.5" fill="url(#gOutSide)" />
<polygon points="877.1,453.1 891.5,457.4 892.6,503.2 877.1,499.8" fill="#161616" />
<polygon points="885.4,455.7 889.9,457.0 889.9,486.4 885.4,484.7" fill="#f4f4f4" />
<polygon points="904.9,486.0 909.3,487.8 909.3,520.5 904.9,518.7" fill="#1a1a1a" />
<polygon points="893.8,503.1 899.3,504.9 899.3,516.1 893.8,514.3" fill="#1a1a1a" />
<polygon points="919.5,447.3 985.7,439.0 986.6,509.1 919.5,517.4" fill="#262626" />
<polygon points="916.0,448.2 920.4,449.2 920.4,455.7 916.0,453.8" fill="#181818" />
<polygon points="943.4,446.4 945.1,446.4 945.1,514.6 943.4,514.6" fill="#111" />
<polygon points="947.8,447.4 961.0,446.4 961.0,496.9 947.8,498.7" fill="#141414" />
<polygon points="953.1,450.2 959.2,449.2 958.4,478.2 954.0,493.1 952.2,493.1" fill="#2c2c2c" />
<polygon points="866.0,429.0 916.0,445.4 916.0,450.1 866.0,433.7" fill="#2c2c2c" />
<polygon points="916.0,445.4 992.8,435.3 992.8,440.0 916.0,450.1" fill="#1c1c1c" />
<polygon points="866.0,429.0 936.2,418.9 992.8,435.3 916.0,445.4" fill="#3a3a3a" />
<polygon points="870.4,427.7 932.7,419.4 985.0,432.7 919.0,441.9" fill="url(#gOutTop)" stroke="#141414" stroke-width="1.3"/>
<polygon points="900.7,427.0 901.8,423.5 911.5,422.1 922.0,422.5 927.4,426.0 925.3,429.5 915.3,430.0 904.8,429.6" fill="#0e0e0e" />
<polygon points="906.3,434.9 919.5,433.1 933.8,437.4 921.5,440.1" fill="#101010" />
<polygon points="942.9,429.1 954.3,427.3 974.4,432.1 963.0,433.9" fill="#101010" />
<polyline points="867.1,429.4 916.1,445.7 992.0,435.6" fill="none" stroke="#9a9a9a" stroke-width="0.9"/>
<polyline points="902.3,424.4 911.7,422.6 922.2,422.9 926.5,426.0" fill="none" stroke="#4a4a4a" stroke-width="1.1"/>
<polygon points="1001.8,420.2 1048.3,431.7 1048.3,499.9 1038.1,498.3 1038.1,502.9 1031.3,501.3 1031.3,496.7 1026.8,495.0 1026.8,498.7 1020.0,497.0 1020.0,486.9 1003.0,487.4" fill="url(#gOutSide)" />
<polygon points="1004.1,436.7 1018.8,440.9 1020.0,486.0 1004.1,482.8" fill="#161616" />
<polygon points="1012.6,439.2 1017.1,440.5 1017.1,469.5 1012.6,467.8" fill="#f4f4f4" />
<polygon points="1032.4,469.0 1037.0,470.7 1037.0,503.0 1032.4,501.3" fill="#1a1a1a" />
<polygon points="1021.1,486.0 1026.8,487.6 1026.8,498.7 1021.1,497.0" fill="#1a1a1a" />
<polygon points="1047.4,430.8 1111.9,422.6 1112.7,491.7 1047.4,499.8" fill="#262626" />
<polygon points="1044.0,431.7 1048.3,432.6 1048.3,439.1 1044.0,437.2" fill="#181818" />
<polygon points="1070.6,429.9 1072.4,429.9 1072.4,497.1 1070.6,497.1" fill="#111" />
<polygon points="1074.9,430.8 1087.8,429.9 1087.8,479.7 1074.9,481.5" fill="#141414" />
<polygon points="1080.1,433.6 1086.1,432.7 1085.2,461.2 1080.9,476.0 1079.2,476.0" fill="#2c2c2c" />
<polygon points="993.0,413.0 1044.0,428.9 1044.0,433.5 993.0,417.6" fill="#2c2c2c" />
<polygon points="1044.0,428.9 1118.7,418.9 1118.7,423.5 1044.0,433.5" fill="#1c1c1c" />
<polygon points="993.0,413.0 1061.3,403.1 1118.7,418.9 1044.0,428.9" fill="#3a3a3a" />
<polygon points="997.2,411.7 1057.8,403.5 1110.8,416.4 1046.6,425.5" fill="url(#gOutTop)" stroke="#141414" stroke-width="1.3"/>
<polygon points="1027.0,411.0 1027.8,407.6 1037.2,406.3 1047.6,406.6 1053.3,410.0 1051.6,413.4 1041.7,413.9 1031.3,413.6" fill="#0e0e0e" />
<polygon points="1033.4,418.7 1046.2,416.9 1060.7,421.1 1048.8,423.7" fill="#101010" />
<polygon points="1068.9,413.0 1080.0,411.3 1100.3,415.9 1089.3,417.6" fill="#101010" />
<polyline points="994.2,413.4 1044.1,429.2 1118.0,419.2" fill="none" stroke="#9a9a9a" stroke-width="0.9"/>
<polyline points="1028.3,408.5 1037.5,406.7 1047.9,407.0 1052.4,410.0" fill="none" stroke="#4a4a4a" stroke-width="1.1"/>
<polygon points="1126.8,404.1 1174.2,415.1 1174.2,482.3 1163.8,480.9 1163.8,485.4 1156.9,483.9 1156.9,479.3 1152.2,477.7 1152.2,481.3 1145.3,479.7 1145.3,469.7 1128.0,470.4" fill="url(#gOutSide)" />
<polygon points="1129.1,420.4 1144.1,424.4 1145.3,468.8 1129.1,465.8" fill="#161616" />
<polygon points="1137.8,422.8 1142.4,424.0 1142.4,452.6 1137.8,450.9" fill="#f4f4f4" />
<polygon points="1158.0,452.0 1162.6,453.7 1162.6,485.5 1158.0,483.8" fill="#1a1a1a" />
<polygon points="1146.5,468.8 1152.2,470.4 1152.2,481.3 1146.5,479.7" fill="#1a1a1a" />
<polygon points="1173.3,414.2 1236.0,406.2 1236.9,474.3 1173.3,482.3" fill="#262626" />
<polygon points="1170.0,415.1 1174.2,416.0 1174.2,422.4 1170.0,420.6" fill="#181818" />
<polygon points="1195.9,413.4 1197.6,413.4 1197.6,479.7 1195.9,479.7" fill="#111" />
<polygon points="1200.1,414.3 1212.6,413.4 1212.6,462.5 1200.1,464.2" fill="#141414" />
<polygon points="1205.1,417.0 1210.9,416.1 1210.1,444.3 1205.9,458.8 1204.3,458.8" fill="#2c2c2c" />
<polygon points="1118.0,397.0 1170.0,412.4 1170.0,416.9 1118.0,401.5" fill="#2c2c2c" />
<polygon points="1170.0,412.4 1242.7,402.6 1242.7,407.1 1170.0,416.9" fill="#1c1c1c" />
<polygon points="1118.0,397.0 1184.3,387.3 1242.7,402.6 1170.0,412.4" fill="#3a3a3a" />
<polygon points="1122.0,395.7 1181.0,387.7 1234.6,400.2 1172.2,409.0" fill="url(#gOutTop)" stroke="#141414" stroke-width="1.3"/>
<polygon points="1151.4,395.0 1151.8,391.7 1160.9,390.4 1171.2,390.7 1177.2,394.0 1175.9,397.3 1166.2,397.8 1155.9,397.5" fill="#0e0e0e" />
<polygon points="1158.5,402.5 1170.9,400.7 1185.7,404.8 1174.2,407.4" fill="#101010" />
<polygon points="1192.9,396.9 1203.6,395.2 1224.2,399.7 1213.5,401.4" fill="#101010" />
<polyline points="1119.2,397.4 1170.2,412.6 1242.0,402.9" fill="none" stroke="#9a9a9a" stroke-width="0.9"/>
<polyline points="1152.4,392.5 1161.2,390.8 1171.5,391.1 1176.3,394.0" fill="none" stroke="#4a4a4a" stroke-width="1.1"/>
<polygon points="73.0,984.0 111.0,965.0 185.0,1000.0 185.0,1016.0 139.0,1023.0" fill="#2a2a2a" />
<polygon points="73.0,984.0 139.0,1023.0 139.0,1029.0 73.0,990.0" fill="#5a5a5a" />
<polygon points="139.0,1023.0 185.0,1016.0 185.0,1021.0 139.0,1029.0" fill="#1a1a1a" />
<polygon points="108.0,848.0 181.5,881.0 185.0,1016.0 111.0,978.0" fill="url(#gRack)" />
<polygon points="181.5,881.0 186.0,880.0 189.0,1013.0 185.0,1016.0" fill="#0e0e0e" />
<ellipse cx="112.0" cy="886.0" rx="2.6" ry="5" fill="#0c0c0c"/>
<ellipse cx="174.0" cy="916.0" rx="2.6" ry="5" fill="#0c0c0c"/>
<ellipse cx="114.0" cy="942.0" rx="2.6" ry="5" fill="#0c0c0c"/>
<ellipse cx="176.0" cy="974.0" rx="2.6" ry="5" fill="#0c0c0c"/>
<ellipse cx="146" cy="1011" rx="7" ry="3.5" fill="#f2f2f2" stroke="#111" stroke-width="1.5"/>
<ellipse cx="98" cy="987" rx="6" ry="3" fill="#e8e8e8" stroke="#111" stroke-width="1.2"/>
<polygon points="40.6,901.0 77.7,895.3 86.0,890.0 76.5,887.4 39.4,893.0" fill="#121212" />
<line x1="47.4" y1="892.6" x2="75.6" y2="888.3" stroke="#d0d0d0" stroke-width="1.3" stroke-dasharray="1.3,1.3"/>
<line x1="48.4" y1="899.0" x2="76.6" y2="894.7" stroke="#8a8a8a" stroke-width="1.1" stroke-dasharray="1.3,1.3"/>
<ellipse cx="43.0" cy="896.5" rx="4.8" ry="8.6" fill="#2a2a2a" stroke="#cfcfcf" stroke-width="0.8"/>
<ellipse cx="39.0" cy="897.2" rx="6.0" ry="9.5" fill="#0a0a0a"/>
<polygon points="102.7,932.9 139.8,926.5 148.0,921.0 138.4,918.6 101.3,925.1" fill="#121212" />
<line x1="109.3" y1="924.5" x2="137.6" y2="919.6" stroke="#d0d0d0" stroke-width="1.3" stroke-dasharray="1.3,1.3"/>
<line x1="110.4" y1="930.8" x2="138.7" y2="925.9" stroke="#8a8a8a" stroke-width="1.1" stroke-dasharray="1.3,1.3"/>
<ellipse cx="105.0" cy="928.5" rx="4.8" ry="8.6" fill="#2a2a2a" stroke="#cfcfcf" stroke-width="0.8"/>
<ellipse cx="101.0" cy="929.2" rx="6.0" ry="9.5" fill="#0a0a0a"/>
<polygon points="42.6,958.0 79.7,952.3 88.0,947.0 78.5,944.4 41.4,950.0" fill="#121212" />
<line x1="49.4" y1="949.6" x2="77.6" y2="945.3" stroke="#d0d0d0" stroke-width="1.3" stroke-dasharray="1.3,1.3"/>
<line x1="50.4" y1="956.0" x2="78.6" y2="951.7" stroke="#8a8a8a" stroke-width="1.1" stroke-dasharray="1.3,1.3"/>
<ellipse cx="45.0" cy="953.5" rx="4.8" ry="8.6" fill="#2a2a2a" stroke="#cfcfcf" stroke-width="0.8"/>
<ellipse cx="41.0" cy="954.2" rx="6.0" ry="9.5" fill="#0a0a0a"/>
<polygon points="104.8,990.9 141.0,983.7 149.0,978.0 139.4,975.8 103.2,983.1" fill="#121212" />
<line x1="111.2" y1="982.3" x2="138.6" y2="976.8" stroke="#d0d0d0" stroke-width="1.3" stroke-dasharray="1.3,1.3"/>
<line x1="112.5" y1="988.6" x2="139.8" y2="983.1" stroke="#8a8a8a" stroke-width="1.1" stroke-dasharray="1.3,1.3"/>
<ellipse cx="106.9" cy="986.4" rx="4.8" ry="8.6" fill="#2a2a2a" stroke="#cfcfcf" stroke-width="0.8"/>
<ellipse cx="103.0" cy="987.2" rx="6.0" ry="9.5" fill="#0a0a0a"/>
<polygon points="1169.6,683.4 1254.9,670.3 1331.9,695.7 1246.6,708.0" fill="url(#gBrk)" />
<polygon points="1169.6,683.4 1246.6,708.0 1246.6,712.0 1205.0,695.0 1169.6,702.0" fill="#2a2a2a" />
<polygon points="1246.6,708.0 1332.0,695.7 1332.0,715.0 1246.6,728.7" fill="#3a3a3a" />
<polyline points="1246.6,708 1332,695.7" stroke="#ddd" stroke-width="1" fill="none"/>
<ellipse cx="1233" cy="692" rx="12" ry="5" fill="#fafafa" stroke="#111" stroke-width="2"/>
<polygon points="1268.6,744.0 1321.0,763.0 1325.0,832.5 1300.0,828.0 1290.0,822.0 1266.6,812.6" fill="url(#gSwL)" />
<polygon points="1321.0,763.0 1359.0,759.0 1358.7,828.0 1325.0,832.5" fill="#3a3a3a" />
<polygon points="1325.0,765.0 1345.0,763.0 1345.0,795.0 1333.0,797.0 1333.0,810.0 1325.0,812.0" fill="#151515" />
<polygon points="1260.0,740.0 1280.0,736.0 1368.0,756.0 1359.0,762.0 1321.0,766.0 1268.0,746.0" fill="#1a1a1a" />
<polygon points="1281.0,733.0 1300.0,728.0 1348.0,745.0 1347.0,750.0 1325.0,754.0 1282.0,740.0" fill="#3a1512" />
<polygon points="1284.0,738.0 1320.0,750.0 1346.0,747.0" fill="none" stroke="#7a3a30" stroke-width="0.8"/>
<path d="M1290.0 840.0 l10 -3 l0 2 l-10 3 z" fill="#222"/>
<rect x="1293.0" y="831.0" width="3" height="8" fill="#ddd"/>
<path d="M1307.0 845.0 l10 -3 l0 2 l-10 3 z" fill="#222"/>
<rect x="1310.0" y="836.0" width="3" height="8" fill="#ddd"/>
<path d="M1328.0 851.0 l10 -3 l0 2 l-10 3 z" fill="#222"/>
<rect x="1331.0" y="842.0" width="3" height="8" fill="#ddd"/>
<polygon points="1383.7,645.0 1470.0,671.7 1465.6,792.4 1380.0,763.0" fill="url(#gEnd)" />
<polygon points="1470.0,671.7 1474.0,671.0 1470.0,792.0 1465.6,792.4" fill="#0c0c0c" />
<polygon points="1465.6,792.4 1470.6,774.5 1496.5,782.0 1496.5,786.7 1470.0,795.0" fill="#1e1e1e" />
<ellipse cx="1423" cy="716" rx="15" ry="24" fill="#fff" stroke="#111" stroke-width="2" transform="rotate(-8 1423 716)"/>
<ellipse cx="1387.0" cy="678.0" rx="2.5" ry="4.5" fill="#fafafa" stroke="#111" stroke-width="1.2"/>
<ellipse cx="1461.0" cy="702.6" rx="2.5" ry="4.5" fill="#fafafa" stroke="#111" stroke-width="1.2"/>
<ellipse cx="1386.0" cy="729.0" rx="2.5" ry="4.5" fill="#fafafa" stroke="#111" stroke-width="1.2"/>
<ellipse cx="1460.6" cy="753.6" rx="2.5" ry="4.5" fill="#fafafa" stroke="#111" stroke-width="1.2"/>
<polygon points="1490.6,659.0 1463.6,662.3 1458.0,666.0 1464.3,668.3 1491.4,665.0" fill="#0e0e0e" stroke="#8a8a8a" stroke-width="0.8"/>
<line x1="1487.4" y1="665.5" x2="1464.3" y2="668.3" stroke="#555" stroke-width="1"/>
<ellipse cx="1491.0" cy="662.0" rx="4.9" ry="7.5" fill="#111" stroke="#bdbdbd" stroke-width="1.3"/>
<ellipse cx="1492.5" cy="662.0" rx="2.9" ry="5.5" fill="#1e1e1e"/>
<polygon points="1489.7,709.0 1475.7,710.4 1470.0,714.0 1476.3,716.4 1490.3,715.0" fill="#0e0e0e" stroke="#8a8a8a" stroke-width="0.8"/>
<line x1="1486.3" y1="715.4" x2="1476.3" y2="716.4" stroke="#555" stroke-width="1"/>
<ellipse cx="1490.0" cy="712.0" rx="4.9" ry="7.5" fill="#111" stroke="#bdbdbd" stroke-width="1.3"/>
<ellipse cx="1491.5" cy="712.0" rx="2.9" ry="5.5" fill="#1e1e1e"/>
<polygon points="1565.6,734.0 1536.5,738.2 1531.0,742.0 1537.4,744.1 1566.4,740.0" fill="#0e0e0e" stroke="#8a8a8a" stroke-width="0.8"/>
<line x1="1562.5" y1="740.5" x2="1537.4" y2="744.1" stroke="#555" stroke-width="1"/>
<ellipse cx="1566.0" cy="737.0" rx="4.9" ry="7.5" fill="#111" stroke="#bdbdbd" stroke-width="1.3"/>
<ellipse cx="1567.5" cy="737.0" rx="2.9" ry="5.5" fill="#1e1e1e"/>
<polygon points="1560.0,678.0 1600.0,672.0 1600.0,703.0 1560.0,711.0" fill="#0e0e0e" />
<polygon points="1572.0,681.0 1600.0,676.0 1600.0,682.0 1572.0,687.0" fill="#2e2e2e" />
<path d="M1522 672 L1548 665 Q1568 667 1570 696 Q1568 726 1548 728 L1522 726 Z" fill="#141414"/>
<path d="M1548 665 Q1568 667 1570 696 Q1568 726 1548 728" fill="none" stroke="#3a3a3a" stroke-width="1.2"/>
<ellipse cx="1522" cy="699" rx="14" ry="26" fill="#0c0c0c" stroke="#bfbfbf" stroke-width="1.1"/>
<ellipse cx="1524" cy="699" rx="10" ry="21" fill="#030303"/>
<polygon points="1572.6,680.5 1537.5,686.5 1532.0,690.0 1538.3,691.5 1573.4,685.5" fill="#0e0e0e" stroke="#8a8a8a" stroke-width="0.8"/>
<line x1="1569.5" y1="686.1" x2="1538.3" y2="691.5" stroke="#555" stroke-width="1"/>
<ellipse cx="1573.0" cy="683.0" rx="4.5" ry="6.9" fill="#111" stroke="#bdbdbd" stroke-width="1.3"/>
<ellipse cx="1574.5" cy="683.0" rx="2.7" ry="5.1" fill="#1e1e1e"/>
<polygon points="1169.0,906.0 1314.0,879.0 1360.0,897.0 1214.0,924.0" fill="#b7beb6" />
<polygon points="1214.0,924.0 1360.0,897.0 1360.0,901.0 1214.0,928.5" fill="#3c8a4a" />
<polygon points="1169.0,906.0 1214.0,924.0 1214.0,928.5 1169.0,910.0" fill="#4a7a52" />
<polygon points="1220.0,900.0 1290.0,888.0 1300.0,905.0 1225.0,918.0" fill="#2f7a3e" opacity="0.8"/>
<ellipse cx="1185.0" cy="907.0" rx="4" ry="1.8" fill="#111"/>
<ellipse cx="1196.0" cy="916.0" rx="4" ry="1.8" fill="#111"/>
<line x1="1302" y1="892" x2="1320" y2="889" stroke="#111" stroke-width="1.6"/>
<line x1="1320" y1="899" x2="1338" y2="896" stroke="#111" stroke-width="1.6"/>
<ellipse cx="1235.0" cy="861.0" rx="27" ry="33" fill="#6f9fe0"/>
<ellipse cx="1237.5" cy="861.5" rx="25.5" ry="32" fill="#1d3d8e"/>
<ellipse cx="1248.0" cy="865.0" rx="27" ry="33" fill="#6f9fe0"/>
<ellipse cx="1250.5" cy="865.5" rx="25.5" ry="32" fill="#1d3d8e"/>
<ellipse cx="1261.0" cy="870.0" rx="27" ry="33" fill="#6f9fe0"/>
<ellipse cx="1263.5" cy="870.5" rx="25.5" ry="32" fill="#1d3d8e"/>
<ellipse cx="1274.0" cy="875.0" rx="28" ry="34" fill="#7aa8e6"/>
<ellipse cx="1275.8" cy="875.3" rx="27" ry="33.5" fill="#3a76cc"/>
<line x1="1228.0" y1="893.0" x2="1228.0" y2="903.0" stroke="#1d3d8e" stroke-width="2"/>
<line x1="1240.0" y1="897.0" x2="1240.0" y2="907.0" stroke="#1d3d8e" stroke-width="2"/>
<line x1="1252.0" y1="901.0" x2="1252.0" y2="911.0" stroke="#1d3d8e" stroke-width="2"/>
<line x1="1272" y1="864" x2="1289" y2="904" stroke="#1d4a9a" stroke-width="4" stroke-linecap="round"/>
<line x1="1272" y1="864" x2="1289" y2="904" stroke="#5f97e0" stroke-width="1.4" stroke-linecap="round"/>
<ellipse cx="1290" cy="907" rx="4" ry="2" fill="#ddd"/>
<ellipse cx="1238" cy="364" rx="5" ry="2.5" fill="#31e030"/>
<polygon points="1228.0,364.5 1248.5,364.5 1247.0,367.0 1247.0,384.0 1238.0,386.0 1229.0,384.0 1229.0,367.0" fill="#141414" />
<path d="M1234 372 l3 5 l3 -6" stroke="#2bb52b" stroke-width="0.8" fill="none"/>
<line x1="1240.5" y1="388" x2="1240.5" y2="400" stroke="#ccc" stroke-width="0.8"/>
<polygon points="1315.0,1038.0 1322.0,1037.0 1324.0,1040.0 1322.0,1044.0 1315.0,1044.0" fill="#9a9a9a" />
<rect x="1314" y="1036" width="8" height="1.5" fill="#222"/>
<linearGradient id="lg1" gradientUnits="userSpaceOnUse" x1="0" y1="140.0" x2="0" y2="639.0"><stop offset="0" stop-color="#1b73bd" stop-opacity="0"/><stop offset="0.220" stop-color="#1b73bd" stop-opacity="1"/><stop offset="1" stop-color="#1b73bd"/></linearGradient><rect x="160.0" y="140.0" width="2" height="499.0" fill="url(#lg1)"/>
<linearGradient id="lg2" gradientUnits="userSpaceOnUse" x1="0" y1="233.0" x2="0" y2="415.0"><stop offset="0" stop-color="#1b73bd" stop-opacity="0"/><stop offset="0.400" stop-color="#1b73bd" stop-opacity="1"/><stop offset="1" stop-color="#1b73bd"/></linearGradient><rect x="712.0" y="233.0" width="2" height="182.0" fill="url(#lg2)"/>
<linearGradient id="lg3" gradientUnits="userSpaceOnUse" x1="0" y1="130.0" x2="0" y2="362.0"><stop offset="0" stop-color="#1b73bd" stop-opacity="0"/><stop offset="0.400" stop-color="#1b73bd" stop-opacity="1"/><stop offset="1" stop-color="#1b73bd"/></linearGradient><rect x="1237.0" y="130.0" width="2" height="232.0" fill="url(#lg3)"/>
<linearGradient id="lg4" gradientUnits="userSpaceOnUse" x1="0" y1="275.0" x2="0" y2="736.0"><stop offset="0" stop-color="#1b73bd" stop-opacity="0"/><stop offset="0.239" stop-color="#1b73bd" stop-opacity="1"/><stop offset="1" stop-color="#1b73bd"/></linearGradient><rect x="1308.0" y="275.0" width="2" height="461.0" fill="url(#lg4)"/>
<linearGradient id="lg5" gradientUnits="userSpaceOnUse" x1="0" y1="1044.0" x2="0" y2="1170.0"><stop offset="0" stop-color="#1b73bd"/><stop offset="0.600" stop-color="#1b73bd" stop-opacity="1"/><stop offset="1" stop-color="#1b73bd" stop-opacity="0"/></linearGradient><rect x="1318.0" y="1044.0" width="2" height="126.0" fill="url(#lg5)"/>
<linearGradient id="lg6" gradientUnits="userSpaceOnUse" x1="0" y1="906.0" x2="0" y2="1365.0"><stop offset="0" stop-color="#1b73bd"/><stop offset="0.760" stop-color="#1b73bd" stop-opacity="1"/><stop offset="1" stop-color="#1b73bd" stop-opacity="0"/></linearGradient><rect x="1216.0" y="906.0" width="2" height="459.0" fill="url(#lg6)"/>
<linearGradient id="lg7" gradientUnits="userSpaceOnUse" x1="0" y1="1043.0" x2="0" y2="1535.0"><stop offset="0" stop-color="#1b73bd"/><stop offset="0.776" stop-color="#1b73bd" stop-opacity="1"/><stop offset="1" stop-color="#1b73bd" stop-opacity="0"/></linearGradient><rect x="1035.0" y="1043.0" width="2" height="492.0" fill="url(#lg7)"/>
<linearGradient id="lg8" gradientUnits="userSpaceOnUse" x1="0" y1="758.0" x2="0" y2="1455.0"><stop offset="0" stop-color="#1b73bd"/><stop offset="0.842" stop-color="#1b73bd" stop-opacity="1"/><stop offset="1" stop-color="#1b73bd" stop-opacity="0"/></linearGradient><rect x="614.0" y="758.0" width="2" height="697.0" fill="url(#lg8)"/>
<linearGradient id="lg9" gradientUnits="userSpaceOnUse" x1="0" y1="930.0" x2="0" y2="1385.0"><stop offset="0" stop-color="#1b73bd"/><stop offset="0.758" stop-color="#1b73bd" stop-opacity="1"/><stop offset="1" stop-color="#1b73bd" stop-opacity="0"/></linearGradient><rect x="273.0" y="930.0" width="2" height="455.0" fill="url(#lg9)"/>
<linearGradient id="lg10" gradientUnits="userSpaceOnUse" x1="0" y1="1011.0" x2="0" y2="1535.0"><stop offset="0" stop-color="#1b73bd"/><stop offset="0.790" stop-color="#1b73bd" stop-opacity="1"/><stop offset="1" stop-color="#1b73bd" stop-opacity="0"/></linearGradient><rect x="145.0" y="1011.0" width="2" height="524.0" fill="url(#lg10)"/>
<polyline points="223.7,476.0 1159.0,355.5" stroke="#1b73bd" stroke-width="2" fill="none"/>
<line x1="223.7" y1="475.0" x2="223.7" y2="509.0" stroke="#1b73bd" stroke-width="2"/>
<line x1="367.0" y1="456.5" x2="367.0" y2="489.0" stroke="#1b73bd" stroke-width="2"/>
<line x1="507.6" y1="438.4" x2="507.6" y2="472.5" stroke="#1b73bd" stroke-width="2"/>
<line x1="644.5" y1="420.8" x2="644.5" y2="453.7" stroke="#1b73bd" stroke-width="2"/>
<line x1="778.7" y1="403.5" x2="778.7" y2="437.0" stroke="#1b73bd" stroke-width="2"/>
<line x1="910.0" y1="386.6" x2="910.0" y2="420.0" stroke="#1b73bd" stroke-width="2"/>
<line x1="1035.0" y1="370.5" x2="1035.0" y2="403.0" stroke="#1b73bd" stroke-width="2"/>
<line x1="1159.0" y1="354.5" x2="1159.0" y2="388.0" stroke="#1b73bd" stroke-width="2"/>
<text transform="matrix(1.0400,-0.1830,0.0000,1,173.0,200.0)" font-family="Liberation Sans, sans-serif" font-size="24.0" fill="#1e1e1e" stroke="#1e1e1e" stroke-width="0.35">Aluminum alloy front housing</text>
<text transform="matrix(1.0000,-0.1760,0.0000,1,720.0,263.0)" font-family="Liberation Sans, sans-serif" font-size="24.0" fill="#1e1e1e" stroke="#1e1e1e" stroke-width="0.35">8 AC-Outlet</text>
<text transform="matrix(0.9650,-0.1698,0.0000,1,1248.0,159.0)" font-family="Liberation Sans, sans-serif" font-size="24.0" fill="#1e1e1e" stroke="#1e1e1e" stroke-width="0.35">Surge protector status indicator</text>
<text transform="matrix(1.0400,-0.1862,0.0000,1,1322.0,320.0)" font-family="Liberation Sans, sans-serif" font-size="24.0" fill="#1e1e1e" stroke="#1e1e1e" stroke-width="0.35">Master switch</text>
<text transform="matrix(1.0600,-0.1897,0.0000,1,1322.0,351.0)" font-family="Liberation Sans, sans-serif" font-size="24.0" fill="#1e1e1e" stroke="#1e1e1e" stroke-width="0.35">[with circuit breaker]</text>
<text transform="matrix(0.9600,-0.2256,0.0000,1,1327.0,1140.0)" font-family="Liberation Sans, sans-serif" font-size="24.0" fill="#1e1e1e" stroke="#1e1e1e" stroke-width="0.35">Casing ground rivets</text>
<text transform="matrix(1.0000,-0.2390,0.0000,1,1226.0,1295.0)" font-family="Liberation Sans, sans-serif" font-size="24.0" fill="#1e1e1e" stroke="#1e1e1e" stroke-width="0.35">2100-Joules surge protector</text>
<text transform="matrix(1.0300,-0.2524,0.0000,1,1226.0,1322.0)" font-family="Liberation Sans, sans-serif" font-size="24.0" fill="#1e1e1e" stroke="#1e1e1e" stroke-width="0.35">circuit board</text>
<text transform="matrix(0.9500,-0.2251,0.0000,1,1048.0,1512.0)" font-family="Liberation Sans, sans-serif" font-size="24.0" fill="#1e1e1e" stroke="#1e1e1e" stroke-width="0.35">Aluminum alloy back housing</text>
<text transform="matrix(0.9700,-0.2338,0.0000,1,626.0,1402.0)" font-family="Liberation Sans, sans-serif" font-size="24.0" fill="#1e1e1e" stroke="#1e1e1e" stroke-width="0.35">Integrated phosphor bronze</text>
<text transform="matrix(0.9800,-0.2401,0.0000,1,626.0,1434.0)" font-family="Liberation Sans, sans-serif" font-size="24.0" fill="#1e1e1e" stroke="#1e1e1e" stroke-width="0.35">contact bar</text>
<text transform="matrix(0.9300,-0.2390,0.0000,1,283.0,1352.0)" font-family="Liberation Sans, sans-serif" font-size="24.0" fill="#1e1e1e" stroke="#1e1e1e" stroke-width="0.35">AC-Outlet base</text>
<text transform="matrix(0.9250,-0.2202,0.0000,1,156.0,1505.0)" font-family="Liberation Sans, sans-serif" font-size="24.0" fill="#1e1e1e" stroke="#1e1e1e" stroke-width="0.35">Mounting Rack</text>
</svg>
</body></html>
